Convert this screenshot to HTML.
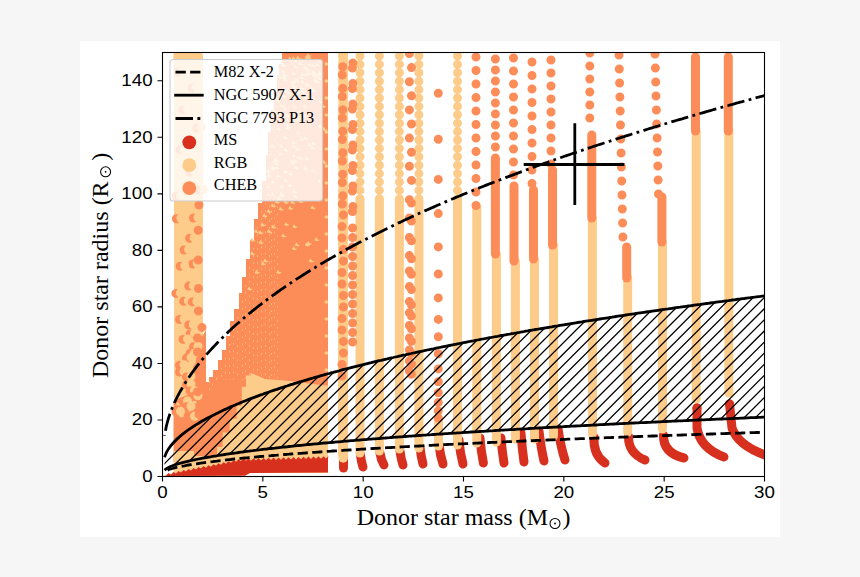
<!DOCTYPE html>
<html><head><meta charset="utf-8"><style>
html,body{margin:0;padding:0;background:#f6f6f6;}
svg{display:block;}
.tk{font-family:"Liberation Sans",sans-serif;font-size:16px;fill:#000;}
.lab{font-family:"Liberation Serif",serif;font-size:24px;fill:#000;}
.lg{font-family:"Liberation Serif",serif;font-size:16.3px;fill:#000;}
</style></head><body>
<svg width="860" height="577" viewBox="0 0 860 577">
<defs><clipPath id="ax"><rect x="162.5" y="52.5" width="602" height="424"/></clipPath>
<clipPath id="hz"><polygon points="164.5,457.2 166.5,452.3 168.5,448.9 170.5,446.1 172.5,443.6 174.5,441.4 176.5,439.4 178.6,437.6 180.6,435.8 182.6,434.2 184.6,432.6 186.6,431.1 188.6,429.7 190.6,428.3 192.6,427.0 194.6,425.7 196.6,424.4 198.6,423.2 200.6,422.0 202.6,420.8 204.6,419.7 206.6,418.6 208.7,417.5 210.7,416.5 212.7,415.4 214.7,414.4 216.7,413.4 218.7,412.4 220.7,411.5 222.7,410.5 224.7,409.6 226.7,408.7 228.7,407.8 230.7,406.9 232.7,406.0 234.7,405.2 236.7,404.3 238.8,403.5 240.8,402.6 242.8,401.8 244.8,401.0 246.8,400.2 248.8,399.4 250.8,398.6 252.8,397.9 254.8,397.1 256.8,396.4 258.8,395.6 260.8,394.9 262.8,394.2 264.8,393.4 266.8,392.7 268.9,392.0 270.9,391.3 272.9,390.6 274.9,389.9 276.9,389.3 278.9,388.6 280.9,387.9 282.9,387.3 284.9,386.6 286.9,386.0 288.9,385.3 290.9,384.7 292.9,384.1 294.9,383.4 296.9,382.8 299.0,382.2 301.0,381.6 303.0,381.0 305.0,380.4 307.0,379.8 309.0,379.2 311.0,378.6 313.0,378.0 315.0,377.4 317.0,376.9 319.0,376.3 321.0,375.7 323.0,375.2 325.0,374.6 327.0,374.0 329.1,373.5 331.1,372.9 333.1,372.4 335.1,371.8 337.1,371.3 339.1,370.8 341.1,370.2 343.1,369.7 345.1,369.2 347.1,368.7 349.1,368.2 351.1,367.6 353.1,367.1 355.1,366.6 357.1,366.1 359.2,365.6 361.2,365.1 363.2,364.6 365.2,364.1 367.2,363.6 369.2,363.1 371.2,362.7 373.2,362.2 375.2,361.7 377.2,361.2 379.2,360.7 381.2,360.3 383.2,359.8 385.2,359.3 387.2,358.9 389.3,358.4 391.3,357.9 393.3,357.5 395.3,357.0 397.3,356.6 399.3,356.1 401.3,355.7 403.3,355.2 405.3,354.8 407.3,354.3 409.3,353.9 411.3,353.5 413.3,353.0 415.3,352.6 417.3,352.1 419.4,351.7 421.4,351.3 423.4,350.9 425.4,350.4 427.4,350.0 429.4,349.6 431.4,349.2 433.4,348.8 435.4,348.3 437.4,347.9 439.4,347.5 441.4,347.1 443.4,346.7 445.4,346.3 447.4,345.9 449.5,345.5 451.5,345.1 453.5,344.7 455.5,344.3 457.5,343.9 459.5,343.5 461.5,343.1 463.5,342.7 465.5,342.3 467.5,341.9 469.5,341.5 471.5,341.1 473.5,340.8 475.5,340.4 477.5,340.0 479.6,339.6 481.6,339.2 483.6,338.9 485.6,338.5 487.6,338.1 489.6,337.7 491.6,337.4 493.6,337.0 495.6,336.6 497.6,336.3 499.6,335.9 501.6,335.5 503.6,335.2 505.6,334.8 507.6,334.4 509.7,334.1 511.7,333.7 513.7,333.4 515.7,333.0 517.7,332.6 519.7,332.3 521.7,331.9 523.7,331.6 525.7,331.2 527.7,330.9 529.7,330.5 531.7,330.2 533.7,329.8 535.7,329.5 537.7,329.2 539.8,328.8 541.8,328.5 543.8,328.1 545.8,327.8 547.8,327.5 549.8,327.1 551.8,326.8 553.8,326.4 555.8,326.1 557.8,325.8 559.8,325.4 561.8,325.1 563.8,324.8 565.8,324.5 567.8,324.1 569.9,323.8 571.9,323.5 573.9,323.2 575.9,322.8 577.9,322.5 579.9,322.2 581.9,321.9 583.9,321.5 585.9,321.2 587.9,320.9 589.9,320.6 591.9,320.3 593.9,320.0 595.9,319.6 597.9,319.3 600.0,319.0 602.0,318.7 604.0,318.4 606.0,318.1 608.0,317.8 610.0,317.5 612.0,317.2 614.0,316.8 616.0,316.5 618.0,316.2 620.0,315.9 622.0,315.6 624.0,315.3 626.0,315.0 628.0,314.7 630.1,314.4 632.1,314.1 634.1,313.8 636.1,313.5 638.1,313.2 640.1,312.9 642.1,312.6 644.1,312.3 646.1,312.0 648.1,311.7 650.1,311.5 652.1,311.2 654.1,310.9 656.1,310.6 658.1,310.3 660.2,310.0 662.2,309.7 664.2,309.4 666.2,309.1 668.2,308.9 670.2,308.6 672.2,308.3 674.2,308.0 676.2,307.7 678.2,307.4 680.2,307.2 682.2,306.9 684.2,306.6 686.2,306.3 688.2,306.0 690.3,305.8 692.3,305.5 694.3,305.2 696.3,304.9 698.3,304.6 700.3,304.4 702.3,304.1 704.3,303.8 706.3,303.5 708.3,303.3 710.3,303.0 712.3,302.7 714.3,302.5 716.3,302.2 718.3,301.9 720.4,301.6 722.4,301.4 724.4,301.1 726.4,300.8 728.4,300.6 730.4,300.3 732.4,300.0 734.4,299.8 736.4,299.5 738.4,299.2 740.4,299.0 742.4,298.7 744.4,298.5 746.4,298.2 748.4,297.9 750.5,297.7 752.5,297.4 754.5,297.2 756.5,296.9 758.5,296.6 760.5,296.4 762.5,296.1 764.5,295.9 764.5,417.1 762.5,417.2 760.5,417.3 758.5,417.4 756.5,417.5 754.5,417.6 752.5,417.7 750.5,417.7 748.4,417.8 746.4,417.9 744.4,418.0 742.4,418.1 740.4,418.2 738.4,418.3 736.4,418.3 734.4,418.4 732.4,418.5 730.4,418.6 728.4,418.7 726.4,418.8 724.4,418.9 722.4,419.0 720.4,419.0 718.3,419.1 716.3,419.2 714.3,419.3 712.3,419.4 710.3,419.5 708.3,419.6 706.3,419.7 704.3,419.8 702.3,419.8 700.3,419.9 698.3,420.0 696.3,420.1 694.3,420.2 692.3,420.3 690.3,420.4 688.2,420.5 686.2,420.6 684.2,420.7 682.2,420.8 680.2,420.9 678.2,420.9 676.2,421.0 674.2,421.1 672.2,421.2 670.2,421.3 668.2,421.4 666.2,421.5 664.2,421.6 662.2,421.7 660.2,421.8 658.1,421.9 656.1,422.0 654.1,422.1 652.1,422.2 650.1,422.3 648.1,422.4 646.1,422.5 644.1,422.6 642.1,422.7 640.1,422.7 638.1,422.8 636.1,422.9 634.1,423.0 632.1,423.1 630.1,423.2 628.0,423.3 626.0,423.4 624.0,423.5 622.0,423.6 620.0,423.7 618.0,423.8 616.0,423.9 614.0,424.0 612.0,424.1 610.0,424.2 608.0,424.3 606.0,424.4 604.0,424.5 602.0,424.6 600.0,424.7 597.9,424.9 595.9,425.0 593.9,425.1 591.9,425.2 589.9,425.3 587.9,425.4 585.9,425.5 583.9,425.6 581.9,425.7 579.9,425.8 577.9,425.9 575.9,426.0 573.9,426.1 571.9,426.2 569.9,426.3 567.8,426.4 565.8,426.5 563.8,426.6 561.8,426.8 559.8,426.9 557.8,427.0 555.8,427.1 553.8,427.2 551.8,427.3 549.8,427.4 547.8,427.5 545.8,427.6 543.8,427.7 541.8,427.9 539.8,428.0 537.7,428.1 535.7,428.2 533.7,428.3 531.7,428.4 529.7,428.5 527.7,428.7 525.7,428.8 523.7,428.9 521.7,429.0 519.7,429.1 517.7,429.2 515.7,429.3 513.7,429.5 511.7,429.6 509.7,429.7 507.6,429.8 505.6,429.9 503.6,430.1 501.6,430.2 499.6,430.3 497.6,430.4 495.6,430.5 493.6,430.7 491.6,430.8 489.6,430.9 487.6,431.0 485.6,431.1 483.6,431.3 481.6,431.4 479.6,431.5 477.5,431.6 475.5,431.8 473.5,431.9 471.5,432.0 469.5,432.1 467.5,432.3 465.5,432.4 463.5,432.5 461.5,432.7 459.5,432.8 457.5,432.9 455.5,433.1 453.5,433.2 451.5,433.3 449.5,433.4 447.4,433.6 445.4,433.7 443.4,433.8 441.4,434.0 439.4,434.1 437.4,434.2 435.4,434.4 433.4,434.5 431.4,434.7 429.4,434.8 427.4,434.9 425.4,435.1 423.4,435.2 421.4,435.4 419.4,435.5 417.3,435.6 415.3,435.8 413.3,435.9 411.3,436.1 409.3,436.2 407.3,436.4 405.3,436.5 403.3,436.6 401.3,436.8 399.3,436.9 397.3,437.1 395.3,437.2 393.3,437.4 391.3,437.5 389.3,437.7 387.2,437.8 385.2,438.0 383.2,438.1 381.2,438.3 379.2,438.5 377.2,438.6 375.2,438.8 373.2,438.9 371.2,439.1 369.2,439.2 367.2,439.4 365.2,439.6 363.2,439.7 361.2,439.9 359.2,440.1 357.1,440.2 355.1,440.4 353.1,440.6 351.1,440.7 349.1,440.9 347.1,441.1 345.1,441.2 343.1,441.4 341.1,441.6 339.1,441.8 337.1,441.9 335.1,442.1 333.1,442.3 331.1,442.5 329.1,442.6 327.0,442.8 325.0,443.0 323.0,443.2 321.0,443.4 319.0,443.6 317.0,443.8 315.0,443.9 313.0,444.1 311.0,444.3 309.0,444.5 307.0,444.7 305.0,444.9 303.0,445.1 301.0,445.3 299.0,445.5 296.9,445.7 294.9,445.9 292.9,446.1 290.9,446.3 288.9,446.5 286.9,446.8 284.9,447.0 282.9,447.2 280.9,447.4 278.9,447.6 276.9,447.8 274.9,448.1 272.9,448.3 270.9,448.5 268.9,448.7 266.8,449.0 264.8,449.2 262.8,449.4 260.8,449.7 258.8,449.9 256.8,450.2 254.8,450.4 252.8,450.7 250.8,450.9 248.8,451.2 246.8,451.4 244.8,451.7 242.8,452.0 240.8,452.2 238.8,452.5 236.7,452.8 234.7,453.1 232.7,453.3 230.7,453.6 228.7,453.9 226.7,454.2 224.7,454.5 222.7,454.8 220.7,455.1 218.7,455.4 216.7,455.8 214.7,456.1 212.7,456.4 210.7,456.8 208.7,457.1 206.6,457.5 204.6,457.8 202.6,458.2 200.6,458.6 198.6,459.0 196.6,459.4 194.6,459.8 192.6,460.2 190.6,460.7 188.6,461.1 186.6,461.6 184.6,462.1 182.6,462.6 180.6,463.1 178.6,463.7 176.5,464.3 174.5,465.0 172.5,465.7 170.5,466.5 168.5,467.4 166.5,468.6 164.5,470.1"/></clipPath></defs>
<rect width="860" height="577" fill="#f6f6f6"/>
<rect x="80" y="41" width="700" height="496" fill="#ffffff"/>
<g clip-path="url(#ax)">
<rect x="174" y="52" width="29" height="410" rx="4.5" fill="#fdcc8a"/>
<rect x="173.5" y="48" width="21" height="20" fill="#fdcc8a"/>
<polygon points="328.0,48.0 282.0,48.0 282.0,52.0 282.0,64.0 279.0,64.0 279.0,75.0 277.0,75.0 277.0,92.0 274.0,92.0 274.0,110.0 271.0,110.0 271.0,132.0 268.0,132.0 268.0,155.0 266.0,155.0 266.0,181.0 262.0,181.0 262.0,203.0 258.0,203.0 258.0,219.0 254.0,219.0 254.0,240.0 250.0,240.0 250.0,259.0 246.0,259.0 246.0,277.0 242.0,277.0 242.0,293.0 239.0,293.0 239.0,309.0 234.0,309.0 234.0,321.0 230.0,321.0 230.0,336.0 226.0,336.0 226.0,350.0 222.0,350.0 222.0,360.0 218.0,360.0 218.0,370.0 213.0,370.0 213.0,377.0 209.0,377.0 209.0,382.0 206.0,382.0 206.0,462.0 328.0,462.0" fill="#fc8d59"/>
<polygon points="173.5,462.0 173.5,402.0 180.0,398.0 190.0,394.0 196.0,360.0 200.0,340.0 206.0,330.0 206.0,462.0" fill="#fc8d59"/>
<path fill="#fdcc8a" d="M176,404q3,-4 6,0q-3,3 -6,0zM186,410q3,-4 6,0q-3,3 -6,0zM179,416q3,-4 5,0q-2,3 -5,0zM192,402q2,-3 5,0q-2,3 -5,0z"/>
<path fill="#fc8d59" d="M171.9,218.8a4.5,4.5 0 1,0 9.0,0a4.5,4.5 0 1,0 -9.0,0"/>
<path fill="#fdcc8a" d="M176.4,218.3a4.5,4.5 0 1,0 9.0,0a4.5,4.5 0 1,0 -9.0,0"/>
<path fill="#fc8d59" d="M189.0,218.0a4.5,4.5 0 1,0 9.0,0a4.5,4.5 0 1,0 -9.0,0"/>
<path fill="#fdcc8a" d="M193.5,217.5a4.5,4.5 0 1,0 9.0,0a4.5,4.5 0 1,0 -9.0,0"/>
<path fill="#fc8d59" d="M185.1,238.3a4.5,4.5 0 1,0 9.0,0a4.5,4.5 0 1,0 -9.0,0"/>
<path fill="#fdcc8a" d="M189.6,237.8a4.5,4.5 0 1,0 9.0,0a4.5,4.5 0 1,0 -9.0,0"/>
<path fill="#fc8d59" d="M179.6,250.0a4.5,4.5 0 1,0 9.0,0a4.5,4.5 0 1,0 -9.0,0"/>
<path fill="#fdcc8a" d="M184.1,249.5a4.5,4.5 0 1,0 9.0,0a4.5,4.5 0 1,0 -9.0,0"/>
<path fill="#fc8d59" d="M188.2,264.0a4.5,4.5 0 1,0 9.0,0a4.5,4.5 0 1,0 -9.0,0"/>
<path fill="#fdcc8a" d="M192.7,263.5a4.5,4.5 0 1,0 9.0,0a4.5,4.5 0 1,0 -9.0,0"/>
<path fill="#fc8d59" d="M175.7,266.3a4.5,4.5 0 1,0 9.0,0a4.5,4.5 0 1,0 -9.0,0"/>
<path fill="#fdcc8a" d="M180.2,265.8a4.5,4.5 0 1,0 9.0,0a4.5,4.5 0 1,0 -9.0,0"/>
<path fill="#fc8d59" d="M184.2,286.1a4.5,4.5 0 1,0 9.0,0a4.5,4.5 0 1,0 -9.0,0"/>
<path fill="#fdcc8a" d="M188.7,285.6a4.5,4.5 0 1,0 9.0,0a4.5,4.5 0 1,0 -9.0,0"/>
<path fill="#fc8d59" d="M171.4,293.4a4.5,4.5 0 1,0 9.0,0a4.5,4.5 0 1,0 -9.0,0"/>
<path fill="#fdcc8a" d="M175.9,292.9a4.5,4.5 0 1,0 9.0,0a4.5,4.5 0 1,0 -9.0,0"/>
<path fill="#fc8d59" d="M179.3,301.3a4.5,4.5 0 1,0 9.0,0a4.5,4.5 0 1,0 -9.0,0"/>
<path fill="#fdcc8a" d="M183.8,300.8a4.5,4.5 0 1,0 9.0,0a4.5,4.5 0 1,0 -9.0,0"/>
<path fill="#fc8d59" d="M187.8,301.9a4.5,4.5 0 1,0 9.0,0a4.5,4.5 0 1,0 -9.0,0"/>
<path fill="#fdcc8a" d="M192.3,301.4a4.5,4.5 0 1,0 9.0,0a4.5,4.5 0 1,0 -9.0,0"/>
<path fill="#fc8d59" d="M175.1,319.5a4.5,4.5 0 1,0 9.0,0a4.5,4.5 0 1,0 -9.0,0"/>
<path fill="#fdcc8a" d="M179.6,319.0a4.5,4.5 0 1,0 9.0,0a4.5,4.5 0 1,0 -9.0,0"/>
<path fill="#fc8d59" d="M184.2,325.0a4.5,4.5 0 1,0 9.0,0a4.5,4.5 0 1,0 -9.0,0"/>
<path fill="#fdcc8a" d="M188.7,324.5a4.5,4.5 0 1,0 9.0,0a4.5,4.5 0 1,0 -9.0,0"/>
<path fill="#fc8d59" d="M185.5,334.0a4.5,4.5 0 1,0 9.0,0a4.5,4.5 0 1,0 -9.0,0"/>
<path fill="#fdcc8a" d="M190.0,333.5a4.5,4.5 0 1,0 9.0,0a4.5,4.5 0 1,0 -9.0,0"/>
<path fill="#fc8d59" d="M178.5,339.4a4.5,4.5 0 1,0 9.0,0a4.5,4.5 0 1,0 -9.0,0"/>
<path fill="#fdcc8a" d="M183.0,338.9a4.5,4.5 0 1,0 9.0,0a4.5,4.5 0 1,0 -9.0,0"/>
<path fill="#fc8d59" d="M189.0,346.7a4.5,4.5 0 1,0 9.0,0a4.5,4.5 0 1,0 -9.0,0"/>
<path fill="#fdcc8a" d="M193.5,346.2a4.5,4.5 0 1,0 9.0,0a4.5,4.5 0 1,0 -9.0,0"/>
<path fill="#fc8d59" d="M185.5,353.5a4.5,4.5 0 1,0 9.0,0a4.5,4.5 0 1,0 -9.0,0"/>
<path fill="#fdcc8a" d="M190.0,353.0a4.5,4.5 0 1,0 9.0,0a4.5,4.5 0 1,0 -9.0,0"/>
<path fill="#fc8d59" d="M182.0,358.1a4.5,4.5 0 1,0 9.0,0a4.5,4.5 0 1,0 -9.0,0"/>
<path fill="#fdcc8a" d="M186.5,357.6a4.5,4.5 0 1,0 9.0,0a4.5,4.5 0 1,0 -9.0,0"/>
<path fill="#fc8d59" d="M175.0,365.3a4.5,4.5 0 1,0 9.0,0a4.5,4.5 0 1,0 -9.0,0"/>
<path fill="#fdcc8a" d="M179.5,364.8a4.5,4.5 0 1,0 9.0,0a4.5,4.5 0 1,0 -9.0,0"/>
<path fill="#fc8d59" d="M175.0,372.0a4.5,4.5 0 1,0 9.0,0a4.5,4.5 0 1,0 -9.0,0"/>
<path fill="#fdcc8a" d="M179.5,371.5a4.5,4.5 0 1,0 9.0,0a4.5,4.5 0 1,0 -9.0,0"/>
<path fill="#fc8d59" d="M182.0,376.9a4.5,4.5 0 1,0 9.0,0a4.5,4.5 0 1,0 -9.0,0"/>
<path fill="#fdcc8a" d="M186.5,376.4a4.5,4.5 0 1,0 9.0,0a4.5,4.5 0 1,0 -9.0,0"/>
<path fill="#fc8d59" d="M182.0,384.5a4.5,4.5 0 1,0 9.0,0a4.5,4.5 0 1,0 -9.0,0"/>
<path fill="#fdcc8a" d="M186.5,384.0a4.5,4.5 0 1,0 9.0,0a4.5,4.5 0 1,0 -9.0,0"/>
<path fill="#fc8d59" d="M185.5,390.9a4.5,4.5 0 1,0 9.0,0a4.5,4.5 0 1,0 -9.0,0"/>
<path fill="#fdcc8a" d="M190.0,390.4a4.5,4.5 0 1,0 9.0,0a4.5,4.5 0 1,0 -9.0,0"/>
<path fill="#fc8d59" d="M189.0,396.3a4.5,4.5 0 1,0 9.0,0a4.5,4.5 0 1,0 -9.0,0"/>
<path fill="#fdcc8a" d="M193.5,395.8a4.5,4.5 0 1,0 9.0,0a4.5,4.5 0 1,0 -9.0,0"/>
<path fill="#fc8d59" d="M178.5,401.5a4.5,4.5 0 1,0 9.0,0a4.5,4.5 0 1,0 -9.0,0"/>
<path fill="#fdcc8a" d="M183.0,401.0a4.5,4.5 0 1,0 9.0,0a4.5,4.5 0 1,0 -9.0,0"/>
<path fill="#fc8d59" d="M182.0,406.7a4.5,4.5 0 1,0 9.0,0a4.5,4.5 0 1,0 -9.0,0"/>
<path fill="#fdcc8a" d="M186.5,406.2a4.5,4.5 0 1,0 9.0,0a4.5,4.5 0 1,0 -9.0,0"/>
<path fill="#fc8d59" d="M171.5,411.7a4.5,4.5 0 1,0 9.0,0a4.5,4.5 0 1,0 -9.0,0"/>
<path fill="#fdcc8a" d="M176.0,411.2a4.5,4.5 0 1,0 9.0,0a4.5,4.5 0 1,0 -9.0,0"/>
<path fill="#fc8d59" d="M185.5,416.7a4.5,4.5 0 1,0 9.0,0a4.5,4.5 0 1,0 -9.0,0"/>
<path fill="#fdcc8a" d="M190.0,416.2a4.5,4.5 0 1,0 9.0,0a4.5,4.5 0 1,0 -9.0,0"/>
<path fill="#fc8d59" d="M173.5,72.0a4.5,4.5 0 1,0 9.0,0a4.5,4.5 0 1,0 -9.0,0"/>
<path fill="#fdcc8a" d="M178.0,71.5a4.5,4.5 0 1,0 9.0,0a4.5,4.5 0 1,0 -9.0,0"/>
<path fill="#fc8d59" d="M187.5,88.0a4.5,4.5 0 1,0 9.0,0a4.5,4.5 0 1,0 -9.0,0"/>
<path fill="#fdcc8a" d="M192.0,87.5a4.5,4.5 0 1,0 9.0,0a4.5,4.5 0 1,0 -9.0,0"/>
<path fill="#fc8d59" d="M178.5,110.0a4.5,4.5 0 1,0 9.0,0a4.5,4.5 0 1,0 -9.0,0"/>
<path fill="#fdcc8a" d="M183.0,109.5a4.5,4.5 0 1,0 9.0,0a4.5,4.5 0 1,0 -9.0,0"/>
<path fill="#fc8d59" d="M192.5,128.0a4.5,4.5 0 1,0 9.0,0a4.5,4.5 0 1,0 -9.0,0"/>
<path fill="#fdcc8a" d="M197.0,127.5a4.5,4.5 0 1,0 9.0,0a4.5,4.5 0 1,0 -9.0,0"/>
<path fill="#fc8d59" d="M175.5,150.0a4.5,4.5 0 1,0 9.0,0a4.5,4.5 0 1,0 -9.0,0"/>
<path fill="#fdcc8a" d="M180.0,149.5a4.5,4.5 0 1,0 9.0,0a4.5,4.5 0 1,0 -9.0,0"/>
<path fill="#fc8d59" d="M185.5,172.0a4.5,4.5 0 1,0 9.0,0a4.5,4.5 0 1,0 -9.0,0"/>
<path fill="#fdcc8a" d="M190.0,171.5a4.5,4.5 0 1,0 9.0,0a4.5,4.5 0 1,0 -9.0,0"/>
<path fill="#fc8d59" d="M194.5,190.0a4.5,4.5 0 1,0 9.0,0a4.5,4.5 0 1,0 -9.0,0"/>
<path fill="#fdcc8a" d="M199.0,189.5a4.5,4.5 0 1,0 9.0,0a4.5,4.5 0 1,0 -9.0,0"/>
<path fill="#fc8d59" d="M171.5,196.0a4.5,4.5 0 1,0 9.0,0a4.5,4.5 0 1,0 -9.0,0"/>
<path fill="#fdcc8a" d="M176.0,195.5a4.5,4.5 0 1,0 9.0,0a4.5,4.5 0 1,0 -9.0,0"/>
<path fill="#fc8d59" d="M193.7,230.2a4.5,4.5 0 1,0 9.0,0a4.5,4.5 0 1,0 -9.0,0M193.7,260.0a4.5,4.5 0 1,0 9.0,0a4.5,4.5 0 1,0 -9.0,0M194.5,205.0a4.5,4.5 0 1,0 9.0,0a4.5,4.5 0 1,0 -9.0,0M193.9,288.5a4.5,4.5 0 1,0 9.0,0a4.5,4.5 0 1,0 -9.0,0M193.9,311.0a4.5,4.5 0 1,0 9.0,0a4.5,4.5 0 1,0 -9.0,0M197.5,327.4a4.5,4.5 0 1,0 9.0,0a4.5,4.5 0 1,0 -9.0,0M193.0,338.0a4.5,4.5 0 1,0 9.0,0a4.5,4.5 0 1,0 -9.0,0M193.0,352.0a4.5,4.5 0 1,0 9.0,0a4.5,4.5 0 1,0 -9.0,0M193.0,368.1a4.5,4.5 0 1,0 9.0,0a4.5,4.5 0 1,0 -9.0,0M193.0,391.7a4.5,4.5 0 1,0 9.0,0a4.5,4.5 0 1,0 -9.0,0M194.5,414.4a4.5,4.5 0 1,0 9.0,0a4.5,4.5 0 1,0 -9.0,0"/>
<path fill="#fdcc8a" d="M292.1,161.9l1.8,-3.2l1.6,2.4l2.2,0.4l-2.4,1.4zM312.3,99.2l1.8,-3.2l1.6,2.4l2.2,0.4l-2.4,1.4zM278.0,78.0l1.8,-3.2l1.6,2.4l2.2,0.4l-2.4,1.4zM270.6,195.3l1.8,-3.2l1.6,2.4l2.2,0.4l-2.4,1.4zM305.6,70.8l1.8,-3.2l1.6,2.4l2.2,0.4l-2.4,1.4zM279.2,194.3l1.8,-3.2l1.6,2.4l2.2,0.4l-2.4,1.4zM321.8,163.0l1.8,-3.2l1.6,2.4l2.2,0.4l-2.4,1.4zM276.3,129.8l1.8,-3.2l1.6,2.4l2.2,0.4l-2.4,1.4zM279.2,187.8l1.8,-3.2l1.6,2.4l2.2,0.4l-2.4,1.4zM250.0,254.3l1.8,-3.2l1.6,2.4l2.2,0.4l-2.4,1.4zM310.5,149.0l1.8,-3.2l1.6,2.4l2.2,0.4l-2.4,1.4zM297.8,119.1l1.8,-3.2l1.6,2.4l2.2,0.4l-2.4,1.4zM258.3,233.4l1.8,-3.2l1.6,2.4l2.2,0.4l-2.4,1.4zM295.9,58.6l1.8,-3.2l1.6,2.4l2.2,0.4l-2.4,1.4zM273.3,160.7l1.8,-3.2l1.6,2.4l2.2,0.4l-2.4,1.4zM270.9,206.6l1.8,-3.2l1.6,2.4l2.2,0.4l-2.4,1.4zM306.1,56.1l1.8,-3.2l1.6,2.4l2.2,0.4l-2.4,1.4zM247.3,289.5l1.8,-3.2l1.6,2.4l2.2,0.4l-2.4,1.4zM281.0,65.9l1.8,-3.2l1.6,2.4l2.2,0.4l-2.4,1.4zM284.9,125.3l1.8,-3.2l1.6,2.4l2.2,0.4l-2.4,1.4zM288.0,59.6l1.8,-3.2l1.6,2.4l2.2,0.4l-2.4,1.4zM291.7,87.8l1.8,-3.2l1.6,2.4l2.2,0.4l-2.4,1.4zM282.4,109.4l1.8,-3.2l1.6,2.4l2.2,0.4l-2.4,1.4zM270.3,168.9l1.8,-3.2l1.6,2.4l2.2,0.4l-2.4,1.4zM306.8,65.1l1.8,-3.2l1.6,2.4l2.2,0.4l-2.4,1.4zM266.3,195.6l1.8,-3.2l1.6,2.4l2.2,0.4l-2.4,1.4zM305.1,85.6l1.8,-3.2l1.6,2.4l2.2,0.4l-2.4,1.4zM311.7,73.3l1.8,-3.2l1.6,2.4l2.2,0.4l-2.4,1.4zM281.0,72.2l1.8,-3.2l1.6,2.4l2.2,0.4l-2.4,1.4zM281.2,97.2l1.8,-3.2l1.6,2.4l2.2,0.4l-2.4,1.4zM299.5,88.8l1.8,-3.2l1.6,2.4l2.2,0.4l-2.4,1.4zM300.2,61.0l1.8,-3.2l1.6,2.4l2.2,0.4l-2.4,1.4zM317.9,73.6l1.8,-3.2l1.6,2.4l2.2,0.4l-2.4,1.4zM298.5,202.2l1.8,-3.2l1.6,2.4l2.2,0.4l-2.4,1.4zM317.1,74.8l1.8,-3.2l1.6,2.4l2.2,0.4l-2.4,1.4zM282.3,75.6l1.8,-3.2l1.6,2.4l2.2,0.4l-2.4,1.4zM293.8,168.5l1.8,-3.2l1.6,2.4l2.2,0.4l-2.4,1.4zM284.9,115.9l1.8,-3.2l1.6,2.4l2.2,0.4l-2.4,1.4zM283.2,172.6l1.8,-3.2l1.6,2.4l2.2,0.4l-2.4,1.4zM318.0,102.5l1.8,-3.2l1.6,2.4l2.2,0.4l-2.4,1.4zM292.1,192.4l1.8,-3.2l1.6,2.4l2.2,0.4l-2.4,1.4zM314.7,65.5l1.8,-3.2l1.6,2.4l2.2,0.4l-2.4,1.4zM314.6,82.4l1.8,-3.2l1.6,2.4l2.2,0.4l-2.4,1.4zM307.2,145.5l1.8,-3.2l1.6,2.4l2.2,0.4l-2.4,1.4zM286.1,121.1l1.8,-3.2l1.6,2.4l2.2,0.4l-2.4,1.4zM303.3,138.9l1.8,-3.2l1.6,2.4l2.2,0.4l-2.4,1.4zM283.9,150.8l1.8,-3.2l1.6,2.4l2.2,0.4l-2.4,1.4zM294.2,81.5l1.8,-3.2l1.6,2.4l2.2,0.4l-2.4,1.4zM291.5,74.2l1.8,-3.2l1.6,2.4l2.2,0.4l-2.4,1.4zM283.5,181.2l1.8,-3.2l1.6,2.4l2.2,0.4l-2.4,1.4zM285.5,93.3l1.8,-3.2l1.6,2.4l2.2,0.4l-2.4,1.4zM270.0,146.8l1.8,-3.2l1.6,2.4l2.2,0.4l-2.4,1.4zM311.4,144.2l1.8,-3.2l1.6,2.4l2.2,0.4l-2.4,1.4zM310.4,208.4l1.8,-3.2l1.6,2.4l2.2,0.4l-2.4,1.4zM311.8,75.4l1.8,-3.2l1.6,2.4l2.2,0.4l-2.4,1.4zM269.6,170.1l1.8,-3.2l1.6,2.4l2.2,0.4l-2.4,1.4zM258.6,243.2l1.8,-3.2l1.6,2.4l2.2,0.4l-2.4,1.4zM297.4,158.8l1.8,-3.2l1.6,2.4l2.2,0.4l-2.4,1.4zM287.1,94.5l1.8,-3.2l1.6,2.4l2.2,0.4l-2.4,1.4zM285.6,127.2l1.8,-3.2l1.6,2.4l2.2,0.4l-2.4,1.4zM266.0,172.4l1.8,-3.2l1.6,2.4l2.2,0.4l-2.4,1.4zM293.0,197.6l1.8,-3.2l1.6,2.4l2.2,0.4l-2.4,1.4zM266.0,187.7l1.8,-3.2l1.6,2.4l2.2,0.4l-2.4,1.4zM317.4,182.1l1.8,-3.2l1.6,2.4l2.2,0.4l-2.4,1.4zM297.8,119.0l1.8,-3.2l1.6,2.4l2.2,0.4l-2.4,1.4zM295.2,81.4l1.8,-3.2l1.6,2.4l2.2,0.4l-2.4,1.4zM290.9,86.3l1.8,-3.2l1.6,2.4l2.2,0.4l-2.4,1.4zM296.5,92.4l1.8,-3.2l1.6,2.4l2.2,0.4l-2.4,1.4zM276.3,113.2l1.8,-3.2l1.6,2.4l2.2,0.4l-2.4,1.4zM308.7,261.6l1.8,-3.2l1.6,2.4l2.2,0.4l-2.4,1.4zM302.6,107.1l1.8,-3.2l1.6,2.4l2.2,0.4l-2.4,1.4zM283.5,202.9l1.8,-3.2l1.6,2.4l2.2,0.4l-2.4,1.4zM260.8,264.4l1.8,-3.2l1.6,2.4l2.2,0.4l-2.4,1.4zM282.3,78.7l1.8,-3.2l1.6,2.4l2.2,0.4l-2.4,1.4zM293.1,116.7l1.8,-3.2l1.6,2.4l2.2,0.4l-2.4,1.4zM250.0,240.8l1.8,-3.2l1.6,2.4l2.2,0.4l-2.4,1.4zM299.5,78.5l1.8,-3.2l1.6,2.4l2.2,0.4l-2.4,1.4zM300.1,83.0l1.8,-3.2l1.6,2.4l2.2,0.4l-2.4,1.4zM262.3,216.4l1.8,-3.2l1.6,2.4l2.2,0.4l-2.4,1.4zM318.3,61.7l1.8,-3.2l1.6,2.4l2.2,0.4l-2.4,1.4zM274.6,168.6l1.8,-3.2l1.6,2.4l2.2,0.4l-2.4,1.4zM276.1,272.9l1.8,-3.2l1.6,2.4l2.2,0.4l-2.4,1.4zM306.8,74.2l1.8,-3.2l1.6,2.4l2.2,0.4l-2.4,1.4zM266.7,176.6l1.8,-3.2l1.6,2.4l2.2,0.4l-2.4,1.4zM294.0,98.4l1.8,-3.2l1.6,2.4l2.2,0.4l-2.4,1.4zM275.7,101.7l1.8,-3.2l1.6,2.4l2.2,0.4l-2.4,1.4zM290.3,203.3l1.8,-3.2l1.6,2.4l2.2,0.4l-2.4,1.4zM284.1,225.1l1.8,-3.2l1.6,2.4l2.2,0.4l-2.4,1.4zM317.7,79.6l1.8,-3.2l1.6,2.4l2.2,0.4l-2.4,1.4zM293.3,67.6l1.8,-3.2l1.6,2.4l2.2,0.4l-2.4,1.4zM279.3,106.6l1.8,-3.2l1.6,2.4l2.2,0.4l-2.4,1.4zM293.0,61.3l1.8,-3.2l1.6,2.4l2.2,0.4l-2.4,1.4zM295.8,150.0l1.8,-3.2l1.6,2.4l2.2,0.4l-2.4,1.4zM304.5,58.5l1.8,-3.2l1.6,2.4l2.2,0.4l-2.4,1.4zM304.7,245.4l1.8,-3.2l1.6,2.4l2.2,0.4l-2.4,1.4zM311.1,66.6l1.8,-3.2l1.6,2.4l2.2,0.4l-2.4,1.4zM291.8,156.5l1.8,-3.2l1.6,2.4l2.2,0.4l-2.4,1.4zM279.2,195.9l1.8,-3.2l1.6,2.4l2.2,0.4l-2.4,1.4zM279.8,187.2l1.8,-3.2l1.6,2.4l2.2,0.4l-2.4,1.4zM291.6,59.3l1.8,-3.2l1.6,2.4l2.2,0.4l-2.4,1.4zM302.5,68.4l1.8,-3.2l1.6,2.4l2.2,0.4l-2.4,1.4zM311.1,73.2l1.8,-3.2l1.6,2.4l2.2,0.4l-2.4,1.4zM276.3,114.7l1.8,-3.2l1.6,2.4l2.2,0.4l-2.4,1.4zM290.9,82.9l1.8,-3.2l1.6,2.4l2.2,0.4l-2.4,1.4zM300.8,92.2l1.8,-3.2l1.6,2.4l2.2,0.4l-2.4,1.4zM289.5,162.6l1.8,-3.2l1.6,2.4l2.2,0.4l-2.4,1.4zM271.2,227.8l1.8,-3.2l1.6,2.4l2.2,0.4l-2.4,1.4zM299.4,140.0l1.8,-3.2l1.6,2.4l2.2,0.4l-2.4,1.4zM266.9,232.3l1.8,-3.2l1.6,2.4l2.2,0.4l-2.4,1.4zM263.2,261.6l1.8,-3.2l1.6,2.4l2.2,0.4l-2.4,1.4zM284.9,116.7l1.8,-3.2l1.6,2.4l2.2,0.4l-2.4,1.4zM270.6,182.7l1.8,-3.2l1.6,2.4l2.2,0.4l-2.4,1.4zM291.5,143.3l1.8,-3.2l1.6,2.4l2.2,0.4l-2.4,1.4zM310.9,171.7l1.8,-3.2l1.6,2.4l2.2,0.4l-2.4,1.4zM291.5,147.3l1.8,-3.2l1.6,2.4l2.2,0.4l-2.4,1.4zM291.8,249.3l1.8,-3.2l1.6,2.4l2.2,0.4l-2.4,1.4zM290.2,164.1l1.8,-3.2l1.6,2.4l2.2,0.4l-2.4,1.4zM306.5,58.2l1.8,-3.2l1.6,2.4l2.2,0.4l-2.4,1.4zM278.6,209.8l1.8,-3.2l1.6,2.4l2.2,0.4l-2.4,1.4zM304.5,159.2l1.8,-3.2l1.6,2.4l2.2,0.4l-2.4,1.4zM294.9,121.3l1.8,-3.2l1.6,2.4l2.2,0.4l-2.4,1.4zM303.8,75.7l1.8,-3.2l1.6,2.4l2.2,0.4l-2.4,1.4zM279.2,147.3l1.8,-3.2l1.6,2.4l2.2,0.4l-2.4,1.4zM313.7,77.0l1.8,-3.2l1.6,2.4l2.2,0.4l-2.4,1.4zM292.2,107.8l1.8,-3.2l1.6,2.4l2.2,0.4l-2.4,1.4zM306.7,244.2l1.8,-3.2l1.6,2.4l2.2,0.4l-2.4,1.4zM317.6,75.7l1.8,-3.2l1.6,2.4l2.2,0.4l-2.4,1.4zM303.8,75.8l1.8,-3.2l1.6,2.4l2.2,0.4l-2.4,1.4zM298.1,113.4l1.8,-3.2l1.6,2.4l2.2,0.4l-2.4,1.4zM278.6,154.7l1.8,-3.2l1.6,2.4l2.2,0.4l-2.4,1.4zM292.2,95.2l1.8,-3.2l1.6,2.4l2.2,0.4l-2.4,1.4zM317.6,127.0l1.8,-3.2l1.6,2.4l2.2,0.4l-2.4,1.4zM254.0,232.2l1.8,-3.2l1.6,2.4l2.2,0.4l-2.4,1.4zM284.9,129.1l1.8,-3.2l1.6,2.4l2.2,0.4l-2.4,1.4zM288.5,175.0l1.8,-3.2l1.6,2.4l2.2,0.4l-2.4,1.4zM303.0,169.4l1.8,-3.2l1.6,2.4l2.2,0.4l-2.4,1.4zM281.2,236.6l1.8,-3.2l1.6,2.4l2.2,0.4l-2.4,1.4zM320.9,106.9l1.8,-3.2l1.6,2.4l2.2,0.4l-2.4,1.4zM314.2,240.3l1.8,-3.2l1.6,2.4l2.2,0.4l-2.4,1.4zM274.6,161.3l1.8,-3.2l1.6,2.4l2.2,0.4l-2.4,1.4zM294.6,245.5l1.8,-3.2l1.6,2.4l2.2,0.4l-2.4,1.4zM276.0,176.7l1.8,-3.2l1.6,2.4l2.2,0.4l-2.4,1.4zM282.3,90.9l1.8,-3.2l1.6,2.4l2.2,0.4l-2.4,1.4zM300.3,75.4l1.8,-3.2l1.6,2.4l2.2,0.4l-2.4,1.4zM287.3,60.5l1.8,-3.2l1.6,2.4l2.2,0.4l-2.4,1.4zM298.2,64.7l1.8,-3.2l1.6,2.4l2.2,0.4l-2.4,1.4zM321.9,130.0l1.8,-3.2l1.6,2.4l2.2,0.4l-2.4,1.4zM266.6,212.1l1.8,-3.2l1.6,2.4l2.2,0.4l-2.4,1.4zM282.3,80.7l1.8,-3.2l1.6,2.4l2.2,0.4l-2.4,1.4zM288.1,209.0l1.8,-3.2l1.6,2.4l2.2,0.4l-2.4,1.4zM272.0,111.6l1.8,-3.2l1.6,2.4l2.2,0.4l-2.4,1.4zM311.0,91.6l1.8,-3.2l1.6,2.4l2.2,0.4l-2.4,1.4zM287.8,186.0l1.8,-3.2l1.6,2.4l2.2,0.4l-2.4,1.4zM292.3,227.2l1.8,-3.2l1.6,2.4l2.2,0.4l-2.4,1.4zM260.3,225.4l1.8,-3.2l1.6,2.4l2.2,0.4l-2.4,1.4zM309.2,89.0l1.8,-3.2l1.6,2.4l2.2,0.4l-2.4,1.4zM302.9,98.1l1.8,-3.2l1.6,2.4l2.2,0.4l-2.4,1.4zM282.3,77.1l1.8,-3.2l1.6,2.4l2.2,0.4l-2.4,1.4zM254.6,272.9l1.8,-3.2l1.6,2.4l2.2,0.4l-2.4,1.4zM295.8,133.6l1.8,-3.2l1.6,2.4l2.2,0.4l-2.4,1.4zM276.7,199.5l1.8,-3.2l1.6,2.4l2.2,0.4l-2.4,1.4zM302.1,117.0l1.8,-3.2l1.6,2.4l2.2,0.4l-2.4,1.4zM312.7,80.9l1.8,-3.2l1.6,2.4l2.2,0.4l-2.4,1.4zM300.8,93.1l1.8,-3.2l1.6,2.4l2.2,0.4l-2.4,1.4zM282.9,138.5l1.8,-3.2l1.6,2.4l2.2,0.4l-2.4,1.4zM274.9,202.7l1.8,-3.2l1.6,2.4l2.2,0.4l-2.4,1.4zM270.3,167.8l1.8,-3.2l1.6,2.4l2.2,0.4l-2.4,1.4zM273.6,164.3l1.8,-3.2l1.6,2.4l2.2,0.4l-2.4,1.4zM279.3,196.8l1.8,-3.2l1.6,2.4l2.2,0.4l-2.4,1.4zM275.0,99.4l1.8,-3.2l1.6,2.4l2.2,0.4l-2.4,1.4z"/>
<path d="M277.5,100.0V380.0M274.5,118.0V380.0M271.5,140.0V380.0M269.5,163.0V380.0M265.5,189.0V380.0M261.5,211.0V380.0M257.5,227.0V380.0M253.5,248.0V380.0M249.5,267.0V380.0M245.5,285.0V380.0M242.5,301.0V380.0M237.5,317.0V380.0M233.5,329.0V380.0M229.5,344.0V380.0M225.5,358.0V380.0M221.5,368.0V380.0M216.5,378.0V380.0M212.5,385.0V380.0M209.5,390.0V380.0" stroke="#fdcc8a" stroke-width="0.9" stroke-dasharray="1.6,5.5" opacity="0.75" fill="none"/>
<path fill="#fdcc8a" d="M324.5,64.0a1.8,1.8 0 1,0 3.6,0a1.8,1.8 0 1,0 -3.6,0M324.5,81.0a1.8,1.8 0 1,0 3.6,0a1.8,1.8 0 1,0 -3.6,0M324.5,98.0a1.8,1.8 0 1,0 3.6,0a1.8,1.8 0 1,0 -3.6,0M324.5,115.0a1.8,1.8 0 1,0 3.6,0a1.8,1.8 0 1,0 -3.6,0M324.5,132.0a1.8,1.8 0 1,0 3.6,0a1.8,1.8 0 1,0 -3.6,0M324.5,149.0a1.8,1.8 0 1,0 3.6,0a1.8,1.8 0 1,0 -3.6,0M324.5,166.0a1.8,1.8 0 1,0 3.6,0a1.8,1.8 0 1,0 -3.6,0M324.5,183.0a1.8,1.8 0 1,0 3.6,0a1.8,1.8 0 1,0 -3.6,0M324.5,200.0a1.8,1.8 0 1,0 3.6,0a1.8,1.8 0 1,0 -3.6,0M324.5,217.0a1.8,1.8 0 1,0 3.6,0a1.8,1.8 0 1,0 -3.6,0M324.5,234.0a1.8,1.8 0 1,0 3.6,0a1.8,1.8 0 1,0 -3.6,0M324.5,251.0a1.8,1.8 0 1,0 3.6,0a1.8,1.8 0 1,0 -3.6,0M324.5,268.0a1.8,1.8 0 1,0 3.6,0a1.8,1.8 0 1,0 -3.6,0M324.5,285.0a1.8,1.8 0 1,0 3.6,0a1.8,1.8 0 1,0 -3.6,0M324.5,302.0a1.8,1.8 0 1,0 3.6,0a1.8,1.8 0 1,0 -3.6,0M324.5,319.0a1.8,1.8 0 1,0 3.6,0a1.8,1.8 0 1,0 -3.6,0M324.5,336.0a1.8,1.8 0 1,0 3.6,0a1.8,1.8 0 1,0 -3.6,0M324.5,353.0a1.8,1.8 0 1,0 3.6,0a1.8,1.8 0 1,0 -3.6,0M324.5,370.0a1.8,1.8 0 1,0 3.6,0a1.8,1.8 0 1,0 -3.6,0M324.5,387.0a1.8,1.8 0 1,0 3.6,0a1.8,1.8 0 1,0 -3.6,0M324.5,404.0a1.8,1.8 0 1,0 3.6,0a1.8,1.8 0 1,0 -3.6,0M324.5,421.0a1.8,1.8 0 1,0 3.6,0a1.8,1.8 0 1,0 -3.6,0M324.5,438.0a1.8,1.8 0 1,0 3.6,0a1.8,1.8 0 1,0 -3.6,0M324.5,455.0a1.8,1.8 0 1,0 3.6,0a1.8,1.8 0 1,0 -3.6,0"/>
<polygon points="217.0,462.0 217.0,447.0 222.7,447.0 222.7,432.6 229.7,432.6 229.7,418.7 236.6,418.7 236.6,405.7 241.8,405.7 241.8,386.7 246.0,386.7 246.0,375.4 250.5,375.4 250.5,372.8 265.0,378.9 290.0,381.0 328.0,386.0 328.0,462.0" fill="#fdcc8a"/>
<polygon points="173.5,451.0 194.0,451.0 194.0,456.0 221.0,456.0 221.0,462.0 328.0,462.0 328.0,473.0 173.5,473.0" fill="#fdcc8a"/>
<polygon points="164.0,476.0 166.0,475.5 168.5,473.0 171.0,474.5 173.5,472.0 176.0,473.5 178.5,471.0 181.0,472.6 183.5,470.1 186.0,471.6 188.5,469.1 191.0,470.6 193.5,468.1 196.0,469.6 198.5,467.1 201.0,468.6 203.5,466.1 206.0,467.7 208.5,465.2 211.0,466.7 213.5,464.2 216.0,465.7 218.5,463.2 221.0,464.7 223.5,462.2 226.0,463.7 228.5,461.2 231.0,462.8 233.5,460.3 236.0,461.8 238.5,459.3 241.0,461.0 243.5,458.5 246.0,460.8 248.5,458.3 251.0,460.7 253.5,458.2 256.0,460.5 258.5,458.0 261.0,460.4 263.5,457.9 266.0,460.3 268.5,457.8 271.0,460.1 273.5,457.6 276.0,460.0 278.5,457.5 281.0,459.8 283.5,457.3 286.0,459.7 288.5,457.2 291.0,459.6 293.5,457.1 296.0,459.4 298.5,456.9 301.0,459.3 303.5,456.8 306.0,459.1 308.5,456.6 311.0,459.0 313.5,456.5 316.0,458.8 318.5,456.3 321.0,458.7 323.5,456.2 326.0,458.6 328.5,456.1 328.0,458.5 328.0,472.5 250.0,473.0 245.0,475.8 164.0,476.0" fill="#d7301f"/>
<path d="M343.5,456.0 L343.5,468.0" fill="none" stroke="#d7301f" stroke-width="9.0" stroke-linecap="round" stroke-linejoin="round"/>
<path fill="#fdcc8a" d="M338.1,56.0a4.5,4.5 0 1,0 9.0,0a4.5,4.5 0 1,0 -9.0,0M338.1,64.4a4.5,4.5 0 1,0 9.0,0a4.5,4.5 0 1,0 -9.0,0M338.1,72.8a4.5,4.5 0 1,0 9.0,0a4.5,4.5 0 1,0 -9.0,0M338.1,81.2a4.5,4.5 0 1,0 9.0,0a4.5,4.5 0 1,0 -9.0,0M338.1,89.6a4.5,4.5 0 1,0 9.0,0a4.5,4.5 0 1,0 -9.0,0M338.1,98.0a4.5,4.5 0 1,0 9.0,0a4.5,4.5 0 1,0 -9.0,0M338.1,106.4a4.5,4.5 0 1,0 9.0,0a4.5,4.5 0 1,0 -9.0,0M338.1,114.8a4.5,4.5 0 1,0 9.0,0a4.5,4.5 0 1,0 -9.0,0M338.1,123.2a4.5,4.5 0 1,0 9.0,0a4.5,4.5 0 1,0 -9.0,0M338.1,131.6a4.5,4.5 0 1,0 9.0,0a4.5,4.5 0 1,0 -9.0,0M338.1,140.0a4.5,4.5 0 1,0 9.0,0a4.5,4.5 0 1,0 -9.0,0M338.1,148.4a4.5,4.5 0 1,0 9.0,0a4.5,4.5 0 1,0 -9.0,0M338.1,156.8a4.5,4.5 0 1,0 9.0,0a4.5,4.5 0 1,0 -9.0,0M338.1,165.2a4.5,4.5 0 1,0 9.0,0a4.5,4.5 0 1,0 -9.0,0M338.1,173.6a4.5,4.5 0 1,0 9.0,0a4.5,4.5 0 1,0 -9.0,0M338.1,182.0a4.5,4.5 0 1,0 9.0,0a4.5,4.5 0 1,0 -9.0,0M338.1,190.4a4.5,4.5 0 1,0 9.0,0a4.5,4.5 0 1,0 -9.0,0M338.1,198.8a4.5,4.5 0 1,0 9.0,0a4.5,4.5 0 1,0 -9.0,0"/>
<line x1="342.6" y1="200.0" x2="342.6" y2="454.0" stroke="#fdcc8a" stroke-width="9.0" stroke-linecap="round"/>
<path d="M360.5,455.0 Q361,461.0 363,467.0" fill="none" stroke="#d7301f" stroke-width="9.0" stroke-linecap="round" stroke-linejoin="round"/>
<path fill="#fdcc8a" d="M355.5,56.0a4.5,4.5 0 1,0 9.0,0a4.5,4.5 0 1,0 -9.0,0M355.5,64.4a4.5,4.5 0 1,0 9.0,0a4.5,4.5 0 1,0 -9.0,0M355.5,72.8a4.5,4.5 0 1,0 9.0,0a4.5,4.5 0 1,0 -9.0,0M355.5,81.2a4.5,4.5 0 1,0 9.0,0a4.5,4.5 0 1,0 -9.0,0M355.5,89.6a4.5,4.5 0 1,0 9.0,0a4.5,4.5 0 1,0 -9.0,0M355.5,98.0a4.5,4.5 0 1,0 9.0,0a4.5,4.5 0 1,0 -9.0,0M355.5,106.4a4.5,4.5 0 1,0 9.0,0a4.5,4.5 0 1,0 -9.0,0M355.5,114.8a4.5,4.5 0 1,0 9.0,0a4.5,4.5 0 1,0 -9.0,0M355.5,123.2a4.5,4.5 0 1,0 9.0,0a4.5,4.5 0 1,0 -9.0,0M355.5,131.6a4.5,4.5 0 1,0 9.0,0a4.5,4.5 0 1,0 -9.0,0M355.5,140.0a4.5,4.5 0 1,0 9.0,0a4.5,4.5 0 1,0 -9.0,0M355.5,148.4a4.5,4.5 0 1,0 9.0,0a4.5,4.5 0 1,0 -9.0,0M355.5,156.8a4.5,4.5 0 1,0 9.0,0a4.5,4.5 0 1,0 -9.0,0M355.5,165.2a4.5,4.5 0 1,0 9.0,0a4.5,4.5 0 1,0 -9.0,0M355.5,173.6a4.5,4.5 0 1,0 9.0,0a4.5,4.5 0 1,0 -9.0,0M355.5,182.0a4.5,4.5 0 1,0 9.0,0a4.5,4.5 0 1,0 -9.0,0M355.5,190.4a4.5,4.5 0 1,0 9.0,0a4.5,4.5 0 1,0 -9.0,0M355.5,198.8a4.5,4.5 0 1,0 9.0,0a4.5,4.5 0 1,0 -9.0,0"/>
<line x1="360.0" y1="200.0" x2="360.0" y2="453.0" stroke="#fdcc8a" stroke-width="9.0" stroke-linecap="round"/>
<path d="M380,453.0 Q381,460.0 384,465.0" fill="none" stroke="#d7301f" stroke-width="9.0" stroke-linecap="round" stroke-linejoin="round"/>
<path fill="#fdcc8a" d="M374.9,56.0a4.5,4.5 0 1,0 9.0,0a4.5,4.5 0 1,0 -9.0,0M374.9,64.4a4.5,4.5 0 1,0 9.0,0a4.5,4.5 0 1,0 -9.0,0M374.9,72.8a4.5,4.5 0 1,0 9.0,0a4.5,4.5 0 1,0 -9.0,0M374.9,81.2a4.5,4.5 0 1,0 9.0,0a4.5,4.5 0 1,0 -9.0,0M374.9,89.6a4.5,4.5 0 1,0 9.0,0a4.5,4.5 0 1,0 -9.0,0M374.9,98.0a4.5,4.5 0 1,0 9.0,0a4.5,4.5 0 1,0 -9.0,0M374.9,106.4a4.5,4.5 0 1,0 9.0,0a4.5,4.5 0 1,0 -9.0,0M374.9,114.8a4.5,4.5 0 1,0 9.0,0a4.5,4.5 0 1,0 -9.0,0M374.9,123.2a4.5,4.5 0 1,0 9.0,0a4.5,4.5 0 1,0 -9.0,0M374.9,131.6a4.5,4.5 0 1,0 9.0,0a4.5,4.5 0 1,0 -9.0,0M374.9,140.0a4.5,4.5 0 1,0 9.0,0a4.5,4.5 0 1,0 -9.0,0M374.9,148.4a4.5,4.5 0 1,0 9.0,0a4.5,4.5 0 1,0 -9.0,0M374.9,156.8a4.5,4.5 0 1,0 9.0,0a4.5,4.5 0 1,0 -9.0,0M374.9,165.2a4.5,4.5 0 1,0 9.0,0a4.5,4.5 0 1,0 -9.0,0M374.9,173.6a4.5,4.5 0 1,0 9.0,0a4.5,4.5 0 1,0 -9.0,0M374.9,182.0a4.5,4.5 0 1,0 9.0,0a4.5,4.5 0 1,0 -9.0,0M374.9,190.4a4.5,4.5 0 1,0 9.0,0a4.5,4.5 0 1,0 -9.0,0M374.9,198.8a4.5,4.5 0 1,0 9.0,0a4.5,4.5 0 1,0 -9.0,0"/>
<line x1="379.4" y1="200.0" x2="379.4" y2="451.0" stroke="#fdcc8a" stroke-width="9.0" stroke-linecap="round"/>
<path d="M400,451.0 Q401,459.0 403,465.0" fill="none" stroke="#d7301f" stroke-width="9.0" stroke-linecap="round" stroke-linejoin="round"/>
<path fill="#fdcc8a" d="M394.9,56.0a4.5,4.5 0 1,0 9.0,0a4.5,4.5 0 1,0 -9.0,0M394.9,64.4a4.5,4.5 0 1,0 9.0,0a4.5,4.5 0 1,0 -9.0,0M394.9,72.8a4.5,4.5 0 1,0 9.0,0a4.5,4.5 0 1,0 -9.0,0M394.9,81.2a4.5,4.5 0 1,0 9.0,0a4.5,4.5 0 1,0 -9.0,0M394.9,89.6a4.5,4.5 0 1,0 9.0,0a4.5,4.5 0 1,0 -9.0,0M394.9,98.0a4.5,4.5 0 1,0 9.0,0a4.5,4.5 0 1,0 -9.0,0M394.9,106.4a4.5,4.5 0 1,0 9.0,0a4.5,4.5 0 1,0 -9.0,0M394.9,114.8a4.5,4.5 0 1,0 9.0,0a4.5,4.5 0 1,0 -9.0,0M394.9,123.2a4.5,4.5 0 1,0 9.0,0a4.5,4.5 0 1,0 -9.0,0M394.9,131.6a4.5,4.5 0 1,0 9.0,0a4.5,4.5 0 1,0 -9.0,0M394.9,140.0a4.5,4.5 0 1,0 9.0,0a4.5,4.5 0 1,0 -9.0,0M394.9,148.4a4.5,4.5 0 1,0 9.0,0a4.5,4.5 0 1,0 -9.0,0M394.9,156.8a4.5,4.5 0 1,0 9.0,0a4.5,4.5 0 1,0 -9.0,0M394.9,165.2a4.5,4.5 0 1,0 9.0,0a4.5,4.5 0 1,0 -9.0,0M394.9,173.6a4.5,4.5 0 1,0 9.0,0a4.5,4.5 0 1,0 -9.0,0M394.9,182.0a4.5,4.5 0 1,0 9.0,0a4.5,4.5 0 1,0 -9.0,0M394.9,190.4a4.5,4.5 0 1,0 9.0,0a4.5,4.5 0 1,0 -9.0,0M394.9,198.8a4.5,4.5 0 1,0 9.0,0a4.5,4.5 0 1,0 -9.0,0"/>
<line x1="399.4" y1="200.0" x2="399.4" y2="449.0" stroke="#fdcc8a" stroke-width="9.0" stroke-linecap="round"/>
<path d="M420,447.0 Q421,457.0 423,464.0" fill="none" stroke="#d7301f" stroke-width="9.0" stroke-linecap="round" stroke-linejoin="round"/>
<path fill="#fdcc8a" d="M414.4,56.0a4.5,4.5 0 1,0 9.0,0a4.5,4.5 0 1,0 -9.0,0M414.4,64.4a4.5,4.5 0 1,0 9.0,0a4.5,4.5 0 1,0 -9.0,0M414.4,72.8a4.5,4.5 0 1,0 9.0,0a4.5,4.5 0 1,0 -9.0,0M414.4,81.2a4.5,4.5 0 1,0 9.0,0a4.5,4.5 0 1,0 -9.0,0M414.4,89.6a4.5,4.5 0 1,0 9.0,0a4.5,4.5 0 1,0 -9.0,0M414.4,98.0a4.5,4.5 0 1,0 9.0,0a4.5,4.5 0 1,0 -9.0,0M414.4,106.4a4.5,4.5 0 1,0 9.0,0a4.5,4.5 0 1,0 -9.0,0M414.4,114.8a4.5,4.5 0 1,0 9.0,0a4.5,4.5 0 1,0 -9.0,0M414.4,123.2a4.5,4.5 0 1,0 9.0,0a4.5,4.5 0 1,0 -9.0,0M414.4,131.6a4.5,4.5 0 1,0 9.0,0a4.5,4.5 0 1,0 -9.0,0M414.4,140.0a4.5,4.5 0 1,0 9.0,0a4.5,4.5 0 1,0 -9.0,0M414.4,148.4a4.5,4.5 0 1,0 9.0,0a4.5,4.5 0 1,0 -9.0,0M414.4,156.8a4.5,4.5 0 1,0 9.0,0a4.5,4.5 0 1,0 -9.0,0M414.4,165.2a4.5,4.5 0 1,0 9.0,0a4.5,4.5 0 1,0 -9.0,0M414.4,173.6a4.5,4.5 0 1,0 9.0,0a4.5,4.5 0 1,0 -9.0,0M414.4,182.0a4.5,4.5 0 1,0 9.0,0a4.5,4.5 0 1,0 -9.0,0M414.4,190.4a4.5,4.5 0 1,0 9.0,0a4.5,4.5 0 1,0 -9.0,0M414.4,198.8a4.5,4.5 0 1,0 9.0,0a4.5,4.5 0 1,0 -9.0,0"/>
<line x1="418.9" y1="200.0" x2="418.9" y2="448.0" stroke="#fdcc8a" stroke-width="9.0" stroke-linecap="round"/>
<path d="M439,444.0 Q440,455.0 443,464.0" fill="none" stroke="#d7301f" stroke-width="9.0" stroke-linecap="round" stroke-linejoin="round"/>
<line x1="438.5" y1="420.0" x2="438.5" y2="446.0" stroke="#fdcc8a" stroke-width="9.0" stroke-linecap="round"/>
<path d="M459,440.0 Q460,453.0 463,464.0" fill="none" stroke="#d7301f" stroke-width="9.0" stroke-linecap="round" stroke-linejoin="round"/>
<path fill="#fdcc8a" d="M453.0,56.0a4.5,4.5 0 1,0 9.0,0a4.5,4.5 0 1,0 -9.0,0M453.0,64.4a4.5,4.5 0 1,0 9.0,0a4.5,4.5 0 1,0 -9.0,0M453.0,72.8a4.5,4.5 0 1,0 9.0,0a4.5,4.5 0 1,0 -9.0,0M453.0,81.2a4.5,4.5 0 1,0 9.0,0a4.5,4.5 0 1,0 -9.0,0M453.0,89.6a4.5,4.5 0 1,0 9.0,0a4.5,4.5 0 1,0 -9.0,0M453.0,98.0a4.5,4.5 0 1,0 9.0,0a4.5,4.5 0 1,0 -9.0,0M453.0,106.4a4.5,4.5 0 1,0 9.0,0a4.5,4.5 0 1,0 -9.0,0M453.0,114.8a4.5,4.5 0 1,0 9.0,0a4.5,4.5 0 1,0 -9.0,0M453.0,123.2a4.5,4.5 0 1,0 9.0,0a4.5,4.5 0 1,0 -9.0,0M453.0,131.6a4.5,4.5 0 1,0 9.0,0a4.5,4.5 0 1,0 -9.0,0M453.0,140.0a4.5,4.5 0 1,0 9.0,0a4.5,4.5 0 1,0 -9.0,0M453.0,148.4a4.5,4.5 0 1,0 9.0,0a4.5,4.5 0 1,0 -9.0,0M453.0,156.8a4.5,4.5 0 1,0 9.0,0a4.5,4.5 0 1,0 -9.0,0M453.0,165.2a4.5,4.5 0 1,0 9.0,0a4.5,4.5 0 1,0 -9.0,0M453.0,173.6a4.5,4.5 0 1,0 9.0,0a4.5,4.5 0 1,0 -9.0,0M453.0,182.0a4.5,4.5 0 1,0 9.0,0a4.5,4.5 0 1,0 -9.0,0M453.0,190.4a4.5,4.5 0 1,0 9.0,0a4.5,4.5 0 1,0 -9.0,0M453.0,198.8a4.5,4.5 0 1,0 9.0,0a4.5,4.5 0 1,0 -9.0,0"/>
<line x1="457.5" y1="200.0" x2="457.5" y2="445.0" stroke="#fdcc8a" stroke-width="9.0" stroke-linecap="round"/>
<path d="M480,438.0 Q481,451.0 483.4,463.0" fill="none" stroke="#d7301f" stroke-width="9.0" stroke-linecap="round" stroke-linejoin="round"/>
<line x1="476.8" y1="207.0" x2="476.8" y2="443.0" stroke="#fdcc8a" stroke-width="9.0" stroke-linecap="round"/>
<path d="M501,438.0 Q502,451.0 504,463.0" fill="none" stroke="#d7301f" stroke-width="9.0" stroke-linecap="round" stroke-linejoin="round"/>
<line x1="496.4" y1="254.0" x2="496.4" y2="442.0" stroke="#fdcc8a" stroke-width="9.0" stroke-linecap="round"/>
<path d="M521,433.0 Q522,448.0 524,462.0" fill="none" stroke="#d7301f" stroke-width="9.0" stroke-linecap="round" stroke-linejoin="round"/>
<line x1="515.4" y1="261.0" x2="515.4" y2="439.0" stroke="#fdcc8a" stroke-width="9.0" stroke-linecap="round"/>
<path d="M539,431.0 Q541,448.0 544,461.0" fill="none" stroke="#d7301f" stroke-width="9.0" stroke-linecap="round" stroke-linejoin="round"/>
<line x1="534.5" y1="259.0" x2="534.5" y2="439.0" stroke="#fdcc8a" stroke-width="9.0" stroke-linecap="round"/>
<path d="M558,429.0 Q561,448.0 565,460.0" fill="none" stroke="#d7301f" stroke-width="9.0" stroke-linecap="round" stroke-linejoin="round"/>
<line x1="553.5" y1="245.0" x2="553.5" y2="436.0" stroke="#fdcc8a" stroke-width="9.0" stroke-linecap="round"/>
<path d="M594,437 Q593,455 605,463" fill="none" stroke="#d7301f" stroke-width="9.0" stroke-linecap="round" stroke-linejoin="round"/>
<line x1="592.4" y1="218.0" x2="592.4" y2="434.0" stroke="#fdcc8a" stroke-width="9.0" stroke-linecap="round"/>
<path d="M628.5,436 Q628,453 645,460" fill="none" stroke="#d7301f" stroke-width="9.0" stroke-linecap="round" stroke-linejoin="round"/>
<line x1="627.7" y1="278.0" x2="627.7" y2="432.0" stroke="#fdcc8a" stroke-width="9.0" stroke-linecap="round"/>
<path d="M663.5,435 Q663,453 684,458" fill="none" stroke="#d7301f" stroke-width="9.0" stroke-linecap="round" stroke-linejoin="round"/>
<line x1="662.5" y1="242.0" x2="662.5" y2="429.0" stroke="#fdcc8a" stroke-width="9.0" stroke-linecap="round"/>
<path d="M697,408 L697,428 Q700,448 724,457" fill="none" stroke="#d7301f" stroke-width="9.0" stroke-linecap="round" stroke-linejoin="round"/>
<line x1="696.2" y1="131.0" x2="696.2" y2="399.0" stroke="#fdcc8a" stroke-width="9.0" stroke-linecap="round"/>
<path d="M729.5,404 L732,428 Q738,446 768,456" fill="none" stroke="#d7301f" stroke-width="9.0" stroke-linecap="round" stroke-linejoin="round"/>
<line x1="728.8" y1="131.0" x2="728.8" y2="393.0" stroke="#fdcc8a" stroke-width="9.0" stroke-linecap="round"/>
<path fill="#d7301f" d="M692.5,408.0a4.5,4.5 0 1,0 9.0,0a4.5,4.5 0 1,0 -9.0,0M725.0,404.0a4.5,4.5 0 1,0 9.0,0a4.5,4.5 0 1,0 -9.0,0"/>
<line x1="343.2" y1="52.0" x2="343.2" y2="458.0" stroke="#fdcc8a" stroke-width="9.5" stroke-linecap="round"/>
<path fill="#fc8d59" d="M338.3,66.7a4.5,4.5 0 1,0 9.0,0a4.5,4.5 0 1,0 -9.0,0M337.8,75.0a4.5,4.5 0 1,0 9.0,0a4.5,4.5 0 1,0 -9.0,0M338.3,88.2a4.5,4.5 0 1,0 9.0,0a4.5,4.5 0 1,0 -9.0,0M337.8,96.5a4.5,4.5 0 1,0 9.0,0a4.5,4.5 0 1,0 -9.0,0M338.3,109.7a4.5,4.5 0 1,0 9.0,0a4.5,4.5 0 1,0 -9.0,0M337.8,118.0a4.5,4.5 0 1,0 9.0,0a4.5,4.5 0 1,0 -9.0,0M338.3,131.2a4.5,4.5 0 1,0 9.0,0a4.5,4.5 0 1,0 -9.0,0M337.8,139.5a4.5,4.5 0 1,0 9.0,0a4.5,4.5 0 1,0 -9.0,0M338.3,152.7a4.5,4.5 0 1,0 9.0,0a4.5,4.5 0 1,0 -9.0,0M337.8,161.0a4.5,4.5 0 1,0 9.0,0a4.5,4.5 0 1,0 -9.0,0M338.3,174.2a4.5,4.5 0 1,0 9.0,0a4.5,4.5 0 1,0 -9.0,0M337.8,182.5a4.5,4.5 0 1,0 9.0,0a4.5,4.5 0 1,0 -9.0,0M338.3,195.7a4.5,4.5 0 1,0 9.0,0a4.5,4.5 0 1,0 -9.0,0M337.8,204.0a4.5,4.5 0 1,0 9.0,0a4.5,4.5 0 1,0 -9.0,0M338.9,215.0a4.5,4.5 0 1,0 9.0,0a4.5,4.5 0 1,0 -9.0,0M337.5,226.5a4.5,4.5 0 1,0 9.0,0a4.5,4.5 0 1,0 -9.0,0M337.5,238.0a4.5,4.5 0 1,0 9.0,0a4.5,4.5 0 1,0 -9.0,0M338.9,249.5a4.5,4.5 0 1,0 9.0,0a4.5,4.5 0 1,0 -9.0,0M338.9,261.0a4.5,4.5 0 1,0 9.0,0a4.5,4.5 0 1,0 -9.0,0M337.5,272.5a4.5,4.5 0 1,0 9.0,0a4.5,4.5 0 1,0 -9.0,0M337.5,284.0a4.5,4.5 0 1,0 9.0,0a4.5,4.5 0 1,0 -9.0,0M338.9,295.5a4.5,4.5 0 1,0 9.0,0a4.5,4.5 0 1,0 -9.0,0M338.9,307.0a4.5,4.5 0 1,0 9.0,0a4.5,4.5 0 1,0 -9.0,0M337.5,318.5a4.5,4.5 0 1,0 9.0,0a4.5,4.5 0 1,0 -9.0,0M337.5,330.0a4.5,4.5 0 1,0 9.0,0a4.5,4.5 0 1,0 -9.0,0M338.9,341.5a4.5,4.5 0 1,0 9.0,0a4.5,4.5 0 1,0 -9.0,0M338.9,353.0a4.5,4.5 0 1,0 9.0,0a4.5,4.5 0 1,0 -9.0,0M337.5,364.5a4.5,4.5 0 1,0 9.0,0a4.5,4.5 0 1,0 -9.0,0M337.5,376.0a4.5,4.5 0 1,0 9.0,0a4.5,4.5 0 1,0 -9.0,0"/>
<path fill="#fc8d59" d="M348.4,63.0a4.5,4.5 0 1,0 9.0,0a4.5,4.5 0 1,0 -9.0,0M347.9,68.0a4.5,4.5 0 1,0 9.0,0a4.5,4.5 0 1,0 -9.0,0M348.4,83.5a4.5,4.5 0 1,0 9.0,0a4.5,4.5 0 1,0 -9.0,0M347.9,88.5a4.5,4.5 0 1,0 9.0,0a4.5,4.5 0 1,0 -9.0,0M348.4,104.0a4.5,4.5 0 1,0 9.0,0a4.5,4.5 0 1,0 -9.0,0M347.9,109.0a4.5,4.5 0 1,0 9.0,0a4.5,4.5 0 1,0 -9.0,0M348.4,124.5a4.5,4.5 0 1,0 9.0,0a4.5,4.5 0 1,0 -9.0,0M347.9,129.5a4.5,4.5 0 1,0 9.0,0a4.5,4.5 0 1,0 -9.0,0M348.4,145.0a4.5,4.5 0 1,0 9.0,0a4.5,4.5 0 1,0 -9.0,0M347.9,150.0a4.5,4.5 0 1,0 9.0,0a4.5,4.5 0 1,0 -9.0,0M348.4,165.5a4.5,4.5 0 1,0 9.0,0a4.5,4.5 0 1,0 -9.0,0M347.9,170.5a4.5,4.5 0 1,0 9.0,0a4.5,4.5 0 1,0 -9.0,0M348.4,186.0a4.5,4.5 0 1,0 9.0,0a4.5,4.5 0 1,0 -9.0,0M347.9,191.0a4.5,4.5 0 1,0 9.0,0a4.5,4.5 0 1,0 -9.0,0M348.4,206.5a4.5,4.5 0 1,0 9.0,0a4.5,4.5 0 1,0 -9.0,0M347.9,211.5a4.5,4.5 0 1,0 9.0,0a4.5,4.5 0 1,0 -9.0,0M348.1,228.0a4.5,4.5 0 1,0 9.0,0a4.5,4.5 0 1,0 -9.0,0M348.1,237.5a4.5,4.5 0 1,0 9.0,0a4.5,4.5 0 1,0 -9.0,0M348.1,247.0a4.5,4.5 0 1,0 9.0,0a4.5,4.5 0 1,0 -9.0,0M348.1,256.5a4.5,4.5 0 1,0 9.0,0a4.5,4.5 0 1,0 -9.0,0M348.1,266.0a4.5,4.5 0 1,0 9.0,0a4.5,4.5 0 1,0 -9.0,0M348.1,275.5a4.5,4.5 0 1,0 9.0,0a4.5,4.5 0 1,0 -9.0,0M348.1,285.0a4.5,4.5 0 1,0 9.0,0a4.5,4.5 0 1,0 -9.0,0M348.1,294.5a4.5,4.5 0 1,0 9.0,0a4.5,4.5 0 1,0 -9.0,0M348.1,304.0a4.5,4.5 0 1,0 9.0,0a4.5,4.5 0 1,0 -9.0,0M348.1,313.5a4.5,4.5 0 1,0 9.0,0a4.5,4.5 0 1,0 -9.0,0M348.1,323.0a4.5,4.5 0 1,0 9.0,0a4.5,4.5 0 1,0 -9.0,0M348.1,332.5a4.5,4.5 0 1,0 9.0,0a4.5,4.5 0 1,0 -9.0,0M348.1,342.0a4.5,4.5 0 1,0 9.0,0a4.5,4.5 0 1,0 -9.0,0"/>
<path fill="#fc8d59" d="M404.9,53.5a4.5,4.5 0 1,0 9.0,0a4.5,4.5 0 1,0 -9.0,0M407.0,67.6a4.5,4.5 0 1,0 9.0,0a4.5,4.5 0 1,0 -9.0,0M404.9,81.7a4.5,4.5 0 1,0 9.0,0a4.5,4.5 0 1,0 -9.0,0M407.0,95.8a4.5,4.5 0 1,0 9.0,0a4.5,4.5 0 1,0 -9.0,0M404.9,109.9a4.5,4.5 0 1,0 9.0,0a4.5,4.5 0 1,0 -9.0,0M407.0,124.0a4.5,4.5 0 1,0 9.0,0a4.5,4.5 0 1,0 -9.0,0M404.9,138.1a4.5,4.5 0 1,0 9.0,0a4.5,4.5 0 1,0 -9.0,0M407.0,152.2a4.5,4.5 0 1,0 9.0,0a4.5,4.5 0 1,0 -9.0,0M404.9,166.3a4.5,4.5 0 1,0 9.0,0a4.5,4.5 0 1,0 -9.0,0M407.0,180.4a4.5,4.5 0 1,0 9.0,0a4.5,4.5 0 1,0 -9.0,0M404.9,199.8a4.5,4.5 0 1,0 9.0,0a4.5,4.5 0 1,0 -9.0,0M406.9,203.0a4.5,4.5 0 1,0 9.0,0a4.5,4.5 0 1,0 -9.0,0M404.9,217.9a4.5,4.5 0 1,0 9.0,0a4.5,4.5 0 1,0 -9.0,0M406.9,221.1a4.5,4.5 0 1,0 9.0,0a4.5,4.5 0 1,0 -9.0,0M404.9,237.5a4.5,4.5 0 1,0 9.0,0a4.5,4.5 0 1,0 -9.0,0M406.9,240.7a4.5,4.5 0 1,0 9.0,0a4.5,4.5 0 1,0 -9.0,0M404.9,255.6a4.5,4.5 0 1,0 9.0,0a4.5,4.5 0 1,0 -9.0,0M406.9,258.8a4.5,4.5 0 1,0 9.0,0a4.5,4.5 0 1,0 -9.0,0M404.9,271.0a4.5,4.5 0 1,0 9.0,0a4.5,4.5 0 1,0 -9.0,0M406.9,274.2a4.5,4.5 0 1,0 9.0,0a4.5,4.5 0 1,0 -9.0,0M404.9,286.4a4.5,4.5 0 1,0 9.0,0a4.5,4.5 0 1,0 -9.0,0M406.9,289.6a4.5,4.5 0 1,0 9.0,0a4.5,4.5 0 1,0 -9.0,0M404.9,301.6a4.5,4.5 0 1,0 9.0,0a4.5,4.5 0 1,0 -9.0,0M406.9,304.8a4.5,4.5 0 1,0 9.0,0a4.5,4.5 0 1,0 -9.0,0M404.9,312.8a4.5,4.5 0 1,0 9.0,0a4.5,4.5 0 1,0 -9.0,0M406.9,316.0a4.5,4.5 0 1,0 9.0,0a4.5,4.5 0 1,0 -9.0,0M404.9,325.5a4.5,4.5 0 1,0 9.0,0a4.5,4.5 0 1,0 -9.0,0M406.9,328.7a4.5,4.5 0 1,0 9.0,0a4.5,4.5 0 1,0 -9.0,0M404.9,338.0a4.5,4.5 0 1,0 9.0,0a4.5,4.5 0 1,0 -9.0,0M406.9,341.2a4.5,4.5 0 1,0 9.0,0a4.5,4.5 0 1,0 -9.0,0M404.9,350.0a4.5,4.5 0 1,0 9.0,0a4.5,4.5 0 1,0 -9.0,0M406.9,353.2a4.5,4.5 0 1,0 9.0,0a4.5,4.5 0 1,0 -9.0,0M404.9,361.0a4.5,4.5 0 1,0 9.0,0a4.5,4.5 0 1,0 -9.0,0M406.9,364.2a4.5,4.5 0 1,0 9.0,0a4.5,4.5 0 1,0 -9.0,0M404.9,371.0a4.5,4.5 0 1,0 9.0,0a4.5,4.5 0 1,0 -9.0,0M406.9,374.2a4.5,4.5 0 1,0 9.0,0a4.5,4.5 0 1,0 -9.0,0"/>
<path fill="#fc8d59" d="M433.8,93.2a4.5,4.5 0 1,0 9.0,0a4.5,4.5 0 1,0 -9.0,0M433.8,139.3a4.5,4.5 0 1,0 9.0,0a4.5,4.5 0 1,0 -9.0,0M433.8,179.4a4.5,4.5 0 1,0 9.0,0a4.5,4.5 0 1,0 -9.0,0M433.8,213.6a4.5,4.5 0 1,0 9.0,0a4.5,4.5 0 1,0 -9.0,0M433.8,246.9a4.5,4.5 0 1,0 9.0,0a4.5,4.5 0 1,0 -9.0,0M433.8,274.0a4.5,4.5 0 1,0 9.0,0a4.5,4.5 0 1,0 -9.0,0M433.8,297.9a4.5,4.5 0 1,0 9.0,0a4.5,4.5 0 1,0 -9.0,0M433.8,319.4a4.5,4.5 0 1,0 9.0,0a4.5,4.5 0 1,0 -9.0,0M433.8,336.8a4.5,4.5 0 1,0 9.0,0a4.5,4.5 0 1,0 -9.0,0M433.8,353.8a4.5,4.5 0 1,0 9.0,0a4.5,4.5 0 1,0 -9.0,0M433.8,368.9a4.5,4.5 0 1,0 9.0,0a4.5,4.5 0 1,0 -9.0,0M433.8,381.7a4.5,4.5 0 1,0 9.0,0a4.5,4.5 0 1,0 -9.0,0M433.8,392.7a4.5,4.5 0 1,0 9.0,0a4.5,4.5 0 1,0 -9.0,0M433.8,402.4a4.5,4.5 0 1,0 9.0,0a4.5,4.5 0 1,0 -9.0,0M433.8,410.9a4.5,4.5 0 1,0 9.0,0a4.5,4.5 0 1,0 -9.0,0M433.8,418.0a4.5,4.5 0 1,0 9.0,0a4.5,4.5 0 1,0 -9.0,0"/>
<path fill="#fc8d59" d="M471.5,57.0a4.5,4.5 0 1,0 9.0,0a4.5,4.5 0 1,0 -9.0,0M471.5,70.5a4.5,4.5 0 1,0 9.0,0a4.5,4.5 0 1,0 -9.0,0M471.5,84.0a4.5,4.5 0 1,0 9.0,0a4.5,4.5 0 1,0 -9.0,0M471.5,97.5a4.5,4.5 0 1,0 9.0,0a4.5,4.5 0 1,0 -9.0,0M471.5,111.0a4.5,4.5 0 1,0 9.0,0a4.5,4.5 0 1,0 -9.0,0M471.5,124.5a4.5,4.5 0 1,0 9.0,0a4.5,4.5 0 1,0 -9.0,0M471.5,138.0a4.5,4.5 0 1,0 9.0,0a4.5,4.5 0 1,0 -9.0,0M471.5,151.5a4.5,4.5 0 1,0 9.0,0a4.5,4.5 0 1,0 -9.0,0M471.5,165.0a4.5,4.5 0 1,0 9.0,0a4.5,4.5 0 1,0 -9.0,0M471.5,178.5a4.5,4.5 0 1,0 9.0,0a4.5,4.5 0 1,0 -9.0,0M471.5,192.0a4.5,4.5 0 1,0 9.0,0a4.5,4.5 0 1,0 -9.0,0M471.5,205.5a4.5,4.5 0 1,0 9.0,0a4.5,4.5 0 1,0 -9.0,0"/>
<path fill="#fc8d59" d="M490.9,59.0a4.5,4.5 0 1,0 9.0,0a4.5,4.5 0 1,0 -9.0,0M490.9,70.0a4.5,4.5 0 1,0 9.0,0a4.5,4.5 0 1,0 -9.0,0M490.9,81.0a4.5,4.5 0 1,0 9.0,0a4.5,4.5 0 1,0 -9.0,0M490.9,92.0a4.5,4.5 0 1,0 9.0,0a4.5,4.5 0 1,0 -9.0,0M490.9,103.0a4.5,4.5 0 1,0 9.0,0a4.5,4.5 0 1,0 -9.0,0M490.9,114.0a4.5,4.5 0 1,0 9.0,0a4.5,4.5 0 1,0 -9.0,0M490.9,125.0a4.5,4.5 0 1,0 9.0,0a4.5,4.5 0 1,0 -9.0,0M490.9,136.0a4.5,4.5 0 1,0 9.0,0a4.5,4.5 0 1,0 -9.0,0M490.9,147.0a4.5,4.5 0 1,0 9.0,0a4.5,4.5 0 1,0 -9.0,0M490.9,158.0a4.5,4.5 0 1,0 9.0,0a4.5,4.5 0 1,0 -9.0,0"/>
<line x1="495.4" y1="160.0" x2="495.4" y2="254.0" stroke="#fc8d59" stroke-width="9.0" stroke-linecap="round"/>
<path fill="#fc8d59" d="M509.0,58.0a4.5,4.5 0 1,0 9.0,0a4.5,4.5 0 1,0 -9.0,0M509.0,71.0a4.5,4.5 0 1,0 9.0,0a4.5,4.5 0 1,0 -9.0,0M509.0,84.0a4.5,4.5 0 1,0 9.0,0a4.5,4.5 0 1,0 -9.0,0M509.0,97.0a4.5,4.5 0 1,0 9.0,0a4.5,4.5 0 1,0 -9.0,0M509.0,110.0a4.5,4.5 0 1,0 9.0,0a4.5,4.5 0 1,0 -9.0,0M509.0,123.0a4.5,4.5 0 1,0 9.0,0a4.5,4.5 0 1,0 -9.0,0M509.0,136.0a4.5,4.5 0 1,0 9.0,0a4.5,4.5 0 1,0 -9.0,0M509.0,149.0a4.5,4.5 0 1,0 9.0,0a4.5,4.5 0 1,0 -9.0,0M509.0,162.0a4.5,4.5 0 1,0 9.0,0a4.5,4.5 0 1,0 -9.0,0M509.0,175.0a4.5,4.5 0 1,0 9.0,0a4.5,4.5 0 1,0 -9.0,0"/>
<line x1="514.0" y1="186.0" x2="514.0" y2="261.0" stroke="#fc8d59" stroke-width="9.0" stroke-linecap="round"/>
<path fill="#fc8d59" d="M527.5,62.0a4.5,4.5 0 1,0 9.0,0a4.5,4.5 0 1,0 -9.0,0M527.5,75.5a4.5,4.5 0 1,0 9.0,0a4.5,4.5 0 1,0 -9.0,0M527.5,89.0a4.5,4.5 0 1,0 9.0,0a4.5,4.5 0 1,0 -9.0,0M527.5,102.5a4.5,4.5 0 1,0 9.0,0a4.5,4.5 0 1,0 -9.0,0M527.5,116.0a4.5,4.5 0 1,0 9.0,0a4.5,4.5 0 1,0 -9.0,0M527.5,129.5a4.5,4.5 0 1,0 9.0,0a4.5,4.5 0 1,0 -9.0,0M527.5,143.0a4.5,4.5 0 1,0 9.0,0a4.5,4.5 0 1,0 -9.0,0M527.5,156.5a4.5,4.5 0 1,0 9.0,0a4.5,4.5 0 1,0 -9.0,0M527.5,170.0a4.5,4.5 0 1,0 9.0,0a4.5,4.5 0 1,0 -9.0,0M527.5,183.5a4.5,4.5 0 1,0 9.0,0a4.5,4.5 0 1,0 -9.0,0"/>
<line x1="533.5" y1="190.0" x2="533.5" y2="259.0" stroke="#fc8d59" stroke-width="9.0" stroke-linecap="round"/>
<path fill="#fc8d59" d="M546.5,60.0a4.5,4.5 0 1,0 9.0,0a4.5,4.5 0 1,0 -9.0,0M546.5,73.0a4.5,4.5 0 1,0 9.0,0a4.5,4.5 0 1,0 -9.0,0M546.5,86.0a4.5,4.5 0 1,0 9.0,0a4.5,4.5 0 1,0 -9.0,0M546.5,99.0a4.5,4.5 0 1,0 9.0,0a4.5,4.5 0 1,0 -9.0,0M546.5,112.0a4.5,4.5 0 1,0 9.0,0a4.5,4.5 0 1,0 -9.0,0M546.5,125.0a4.5,4.5 0 1,0 9.0,0a4.5,4.5 0 1,0 -9.0,0M546.5,138.0a4.5,4.5 0 1,0 9.0,0a4.5,4.5 0 1,0 -9.0,0M546.5,151.0a4.5,4.5 0 1,0 9.0,0a4.5,4.5 0 1,0 -9.0,0M546.5,164.0a4.5,4.5 0 1,0 9.0,0a4.5,4.5 0 1,0 -9.0,0"/>
<line x1="552.5" y1="170.0" x2="552.5" y2="245.0" stroke="#fc8d59" stroke-width="9.0" stroke-linecap="round"/>
<path fill="#fc8d59" d="M585.3,53.0a4.5,4.5 0 1,0 9.0,0a4.5,4.5 0 1,0 -9.0,0M585.3,66.0a4.5,4.5 0 1,0 9.0,0a4.5,4.5 0 1,0 -9.0,0M585.3,79.0a4.5,4.5 0 1,0 9.0,0a4.5,4.5 0 1,0 -9.0,0M585.3,92.0a4.5,4.5 0 1,0 9.0,0a4.5,4.5 0 1,0 -9.0,0M585.3,105.0a4.5,4.5 0 1,0 9.0,0a4.5,4.5 0 1,0 -9.0,0M585.3,118.0a4.5,4.5 0 1,0 9.0,0a4.5,4.5 0 1,0 -9.0,0"/>
<line x1="591.8" y1="135.0" x2="591.8" y2="218.0" stroke="#fc8d59" stroke-width="9.0" stroke-linecap="round"/>
<path fill="#fc8d59" d="M614.5,55.0a4.5,4.5 0 1,0 9.0,0a4.5,4.5 0 1,0 -9.0,0M614.8,69.0a4.5,4.5 0 1,0 9.0,0a4.5,4.5 0 1,0 -9.0,0M615.1,83.0a4.5,4.5 0 1,0 9.0,0a4.5,4.5 0 1,0 -9.0,0M615.4,97.0a4.5,4.5 0 1,0 9.0,0a4.5,4.5 0 1,0 -9.0,0M615.7,111.0a4.5,4.5 0 1,0 9.0,0a4.5,4.5 0 1,0 -9.0,0M616.0,125.0a4.5,4.5 0 1,0 9.0,0a4.5,4.5 0 1,0 -9.0,0M616.3,139.0a4.5,4.5 0 1,0 9.0,0a4.5,4.5 0 1,0 -9.0,0M616.6,153.0a4.5,4.5 0 1,0 9.0,0a4.5,4.5 0 1,0 -9.0,0M616.9,167.0a4.5,4.5 0 1,0 9.0,0a4.5,4.5 0 1,0 -9.0,0M617.2,181.0a4.5,4.5 0 1,0 9.0,0a4.5,4.5 0 1,0 -9.0,0M617.5,195.0a4.5,4.5 0 1,0 9.0,0a4.5,4.5 0 1,0 -9.0,0M617.8,209.0a4.5,4.5 0 1,0 9.0,0a4.5,4.5 0 1,0 -9.0,0M618.1,223.0a4.5,4.5 0 1,0 9.0,0a4.5,4.5 0 1,0 -9.0,0M618.4,237.0a4.5,4.5 0 1,0 9.0,0a4.5,4.5 0 1,0 -9.0,0"/>
<line x1="626.7" y1="247.0" x2="626.7" y2="278.0" stroke="#fc8d59" stroke-width="9.0" stroke-linecap="round"/>
<path fill="#fc8d59" d="M650.5,54.0a4.5,4.5 0 1,0 9.0,0a4.5,4.5 0 1,0 -9.0,0M650.9,68.0a4.5,4.5 0 1,0 9.0,0a4.5,4.5 0 1,0 -9.0,0M651.2,82.0a4.5,4.5 0 1,0 9.0,0a4.5,4.5 0 1,0 -9.0,0M651.5,96.0a4.5,4.5 0 1,0 9.0,0a4.5,4.5 0 1,0 -9.0,0M651.9,110.0a4.5,4.5 0 1,0 9.0,0a4.5,4.5 0 1,0 -9.0,0M652.2,124.0a4.5,4.5 0 1,0 9.0,0a4.5,4.5 0 1,0 -9.0,0M652.6,138.0a4.5,4.5 0 1,0 9.0,0a4.5,4.5 0 1,0 -9.0,0M653.0,152.0a4.5,4.5 0 1,0 9.0,0a4.5,4.5 0 1,0 -9.0,0M653.3,166.0a4.5,4.5 0 1,0 9.0,0a4.5,4.5 0 1,0 -9.0,0M653.6,180.0a4.5,4.5 0 1,0 9.0,0a4.5,4.5 0 1,0 -9.0,0M654.0,194.0a4.5,4.5 0 1,0 9.0,0a4.5,4.5 0 1,0 -9.0,0"/>
<line x1="661.9" y1="197.0" x2="661.9" y2="242.0" stroke="#fc8d59" stroke-width="9.0" stroke-linecap="round"/>
<line x1="695.5" y1="57.0" x2="695.5" y2="131.0" stroke="#fc8d59" stroke-width="9.0" stroke-linecap="round"/>
<line x1="728.3" y1="57.0" x2="728.3" y2="131.0" stroke="#fc8d59" stroke-width="9.0" stroke-linecap="round"/>
<path clip-path="url(#hz)" d="M150,189.05L780,-440.95M150,200.17L780,-429.83M150,211.29L780,-418.71M150,222.41L780,-407.59M150,233.53L780,-396.47M150,244.65L780,-385.35M150,255.77L780,-374.23M150,266.89L780,-363.11M150,278.01L780,-351.99M150,289.13L780,-340.87M150,300.25L780,-329.75M150,311.37L780,-318.63M150,322.49L780,-307.51M150,333.61L780,-296.39M150,344.73L780,-285.27M150,355.85L780,-274.15M150,366.97L780,-263.03M150,378.09L780,-251.91M150,389.21L780,-240.79M150,400.33L780,-229.67M150,411.45L780,-218.55M150,422.57L780,-207.43M150,433.69L780,-196.31M150,444.81L780,-185.19M150,455.93L780,-174.07M150,467.05L780,-162.95M150,478.17L780,-151.83M150,489.29L780,-140.71M150,500.41L780,-129.59M150,511.53L780,-118.47M150,522.65L780,-107.35M150,533.77L780,-96.23M150,544.89L780,-85.11M150,556.01L780,-73.99M150,567.13L780,-62.87M150,578.25L780,-51.75M150,589.37L780,-40.63M150,600.49L780,-29.51M150,611.61L780,-18.39M150,622.73L780,-7.27M150,633.85L780,3.85M150,644.97L780,14.97M150,656.09L780,26.09M150,667.21L780,37.21M150,678.33L780,48.33M150,689.45L780,59.45M150,700.57L780,70.57M150,711.69L780,81.69M150,722.81L780,92.81M150,733.93L780,103.93M150,745.05L780,115.05M150,756.17L780,126.17M150,767.29L780,137.29M150,778.41L780,148.41M150,789.53L780,159.53M150,800.65L780,170.65M150,811.77L780,181.77M150,822.89L780,192.89M150,834.01L780,204.01M150,845.13L780,215.13M150,856.25L780,226.25M150,867.37L780,237.37M150,878.49L780,248.49M150,889.61L780,259.61M150,900.73L780,270.73M150,911.85L780,281.85M150,922.97L780,292.97M150,934.09L780,304.09M150,945.21L780,315.21M150,956.33L780,326.33M150,967.45L780,337.45M150,978.57L780,348.57M150,989.69L780,359.69M150,1000.81L780,370.81M150,1011.93L780,381.93M150,1023.05L780,393.05M150,1034.17L780,404.17M150,1045.29L780,415.29M150,1056.41L780,426.41M150,1067.53L780,437.53M150,1078.65L780,448.65M150,1089.77L780,459.77M150,1100.89L780,470.89M150,1112.01L780,482.01M150,1123.13L780,493.13M150,1134.25L780,504.25M150,1145.37L780,515.37M150,1156.49L780,526.49M150,1167.61L780,537.61M150,1178.73L780,548.73M150,1189.85L780,559.85M150,1200.97L780,570.97M150,1212.09L780,582.09M150,1223.21L780,593.21M150,1234.33L780,604.33M150,1245.45L780,615.45M150,1256.57L780,626.57M150,1267.69L780,637.69M150,1278.81L780,648.81M150,1289.93L780,659.93M150,1301.05L780,671.05M150,1312.17L780,682.17M150,1323.29L780,693.29M150,1334.41L780,704.41M150,1345.53L780,715.53M150,1356.65L780,726.65M150,1367.77L780,737.77M150,1378.89L780,748.89M150,1390.01L780,760.01M150,1401.13L780,771.13" stroke="#000" stroke-width="1.3" fill="none"/>
<polyline points="164.5,457.2 166.5,452.3 168.5,448.9 170.5,446.1 172.5,443.6 174.5,441.4 176.5,439.4 178.6,437.6 180.6,435.8 182.6,434.2 184.6,432.6 186.6,431.1 188.6,429.7 190.6,428.3 192.6,427.0 194.6,425.7 196.6,424.4 198.6,423.2 200.6,422.0 202.6,420.8 204.6,419.7 206.6,418.6 208.7,417.5 210.7,416.5 212.7,415.4 214.7,414.4 216.7,413.4 218.7,412.4 220.7,411.5 222.7,410.5 224.7,409.6 226.7,408.7 228.7,407.8 230.7,406.9 232.7,406.0 234.7,405.2 236.7,404.3 238.8,403.5 240.8,402.6 242.8,401.8 244.8,401.0 246.8,400.2 248.8,399.4 250.8,398.6 252.8,397.9 254.8,397.1 256.8,396.4 258.8,395.6 260.8,394.9 262.8,394.2 264.8,393.4 266.8,392.7 268.9,392.0 270.9,391.3 272.9,390.6 274.9,389.9 276.9,389.3 278.9,388.6 280.9,387.9 282.9,387.3 284.9,386.6 286.9,386.0 288.9,385.3 290.9,384.7 292.9,384.1 294.9,383.4 296.9,382.8 299.0,382.2 301.0,381.6 303.0,381.0 305.0,380.4 307.0,379.8 309.0,379.2 311.0,378.6 313.0,378.0 315.0,377.4 317.0,376.9 319.0,376.3 321.0,375.7 323.0,375.2 325.0,374.6 327.0,374.0 329.1,373.5 331.1,372.9 333.1,372.4 335.1,371.8 337.1,371.3 339.1,370.8 341.1,370.2 343.1,369.7 345.1,369.2 347.1,368.7 349.1,368.2 351.1,367.6 353.1,367.1 355.1,366.6 357.1,366.1 359.2,365.6 361.2,365.1 363.2,364.6 365.2,364.1 367.2,363.6 369.2,363.1 371.2,362.7 373.2,362.2 375.2,361.7 377.2,361.2 379.2,360.7 381.2,360.3 383.2,359.8 385.2,359.3 387.2,358.9 389.3,358.4 391.3,357.9 393.3,357.5 395.3,357.0 397.3,356.6 399.3,356.1 401.3,355.7 403.3,355.2 405.3,354.8 407.3,354.3 409.3,353.9 411.3,353.5 413.3,353.0 415.3,352.6 417.3,352.1 419.4,351.7 421.4,351.3 423.4,350.9 425.4,350.4 427.4,350.0 429.4,349.6 431.4,349.2 433.4,348.8 435.4,348.3 437.4,347.9 439.4,347.5 441.4,347.1 443.4,346.7 445.4,346.3 447.4,345.9 449.5,345.5 451.5,345.1 453.5,344.7 455.5,344.3 457.5,343.9 459.5,343.5 461.5,343.1 463.5,342.7 465.5,342.3 467.5,341.9 469.5,341.5 471.5,341.1 473.5,340.8 475.5,340.4 477.5,340.0 479.6,339.6 481.6,339.2 483.6,338.9 485.6,338.5 487.6,338.1 489.6,337.7 491.6,337.4 493.6,337.0 495.6,336.6 497.6,336.3 499.6,335.9 501.6,335.5 503.6,335.2 505.6,334.8 507.6,334.4 509.7,334.1 511.7,333.7 513.7,333.4 515.7,333.0 517.7,332.6 519.7,332.3 521.7,331.9 523.7,331.6 525.7,331.2 527.7,330.9 529.7,330.5 531.7,330.2 533.7,329.8 535.7,329.5 537.7,329.2 539.8,328.8 541.8,328.5 543.8,328.1 545.8,327.8 547.8,327.5 549.8,327.1 551.8,326.8 553.8,326.4 555.8,326.1 557.8,325.8 559.8,325.4 561.8,325.1 563.8,324.8 565.8,324.5 567.8,324.1 569.9,323.8 571.9,323.5 573.9,323.2 575.9,322.8 577.9,322.5 579.9,322.2 581.9,321.9 583.9,321.5 585.9,321.2 587.9,320.9 589.9,320.6 591.9,320.3 593.9,320.0 595.9,319.6 597.9,319.3 600.0,319.0 602.0,318.7 604.0,318.4 606.0,318.1 608.0,317.8 610.0,317.5 612.0,317.2 614.0,316.8 616.0,316.5 618.0,316.2 620.0,315.9 622.0,315.6 624.0,315.3 626.0,315.0 628.0,314.7 630.1,314.4 632.1,314.1 634.1,313.8 636.1,313.5 638.1,313.2 640.1,312.9 642.1,312.6 644.1,312.3 646.1,312.0 648.1,311.7 650.1,311.5 652.1,311.2 654.1,310.9 656.1,310.6 658.1,310.3 660.2,310.0 662.2,309.7 664.2,309.4 666.2,309.1 668.2,308.9 670.2,308.6 672.2,308.3 674.2,308.0 676.2,307.7 678.2,307.4 680.2,307.2 682.2,306.9 684.2,306.6 686.2,306.3 688.2,306.0 690.3,305.8 692.3,305.5 694.3,305.2 696.3,304.9 698.3,304.6 700.3,304.4 702.3,304.1 704.3,303.8 706.3,303.5 708.3,303.3 710.3,303.0 712.3,302.7 714.3,302.5 716.3,302.2 718.3,301.9 720.4,301.6 722.4,301.4 724.4,301.1 726.4,300.8 728.4,300.6 730.4,300.3 732.4,300.0 734.4,299.8 736.4,299.5 738.4,299.2 740.4,299.0 742.4,298.7 744.4,298.5 746.4,298.2 748.4,297.9 750.5,297.7 752.5,297.4 754.5,297.2 756.5,296.9 758.5,296.6 760.5,296.4 762.5,296.1 764.5,295.9" fill="none" stroke="#000" stroke-width="2.8"/>
<polyline points="164.5,470.1 166.5,468.6 168.5,467.4 170.5,466.5 172.5,465.7 174.5,465.0 176.5,464.3 178.6,463.7 180.6,463.1 182.6,462.6 184.6,462.1 186.6,461.6 188.6,461.1 190.6,460.7 192.6,460.2 194.6,459.8 196.6,459.4 198.6,459.0 200.6,458.6 202.6,458.2 204.6,457.8 206.6,457.5 208.7,457.1 210.7,456.8 212.7,456.4 214.7,456.1 216.7,455.8 218.7,455.4 220.7,455.1 222.7,454.8 224.7,454.5 226.7,454.2 228.7,453.9 230.7,453.6 232.7,453.3 234.7,453.1 236.7,452.8 238.8,452.5 240.8,452.2 242.8,452.0 244.8,451.7 246.8,451.4 248.8,451.2 250.8,450.9 252.8,450.7 254.8,450.4 256.8,450.2 258.8,449.9 260.8,449.7 262.8,449.4 264.8,449.2 266.8,449.0 268.9,448.7 270.9,448.5 272.9,448.3 274.9,448.1 276.9,447.8 278.9,447.6 280.9,447.4 282.9,447.2 284.9,447.0 286.9,446.8 288.9,446.5 290.9,446.3 292.9,446.1 294.9,445.9 296.9,445.7 299.0,445.5 301.0,445.3 303.0,445.1 305.0,444.9 307.0,444.7 309.0,444.5 311.0,444.3 313.0,444.1 315.0,443.9 317.0,443.8 319.0,443.6 321.0,443.4 323.0,443.2 325.0,443.0 327.0,442.8 329.1,442.6 331.1,442.5 333.1,442.3 335.1,442.1 337.1,441.9 339.1,441.8 341.1,441.6 343.1,441.4 345.1,441.2 347.1,441.1 349.1,440.9 351.1,440.7 353.1,440.6 355.1,440.4 357.1,440.2 359.2,440.1 361.2,439.9 363.2,439.7 365.2,439.6 367.2,439.4 369.2,439.2 371.2,439.1 373.2,438.9 375.2,438.8 377.2,438.6 379.2,438.5 381.2,438.3 383.2,438.1 385.2,438.0 387.2,437.8 389.3,437.7 391.3,437.5 393.3,437.4 395.3,437.2 397.3,437.1 399.3,436.9 401.3,436.8 403.3,436.6 405.3,436.5 407.3,436.4 409.3,436.2 411.3,436.1 413.3,435.9 415.3,435.8 417.3,435.6 419.4,435.5 421.4,435.4 423.4,435.2 425.4,435.1 427.4,434.9 429.4,434.8 431.4,434.7 433.4,434.5 435.4,434.4 437.4,434.2 439.4,434.1 441.4,434.0 443.4,433.8 445.4,433.7 447.4,433.6 449.5,433.4 451.5,433.3 453.5,433.2 455.5,433.1 457.5,432.9 459.5,432.8 461.5,432.7 463.5,432.5 465.5,432.4 467.5,432.3 469.5,432.1 471.5,432.0 473.5,431.9 475.5,431.8 477.5,431.6 479.6,431.5 481.6,431.4 483.6,431.3 485.6,431.1 487.6,431.0 489.6,430.9 491.6,430.8 493.6,430.7 495.6,430.5 497.6,430.4 499.6,430.3 501.6,430.2 503.6,430.1 505.6,429.9 507.6,429.8 509.7,429.7 511.7,429.6 513.7,429.5 515.7,429.3 517.7,429.2 519.7,429.1 521.7,429.0 523.7,428.9 525.7,428.8 527.7,428.7 529.7,428.5 531.7,428.4 533.7,428.3 535.7,428.2 537.7,428.1 539.8,428.0 541.8,427.9 543.8,427.7 545.8,427.6 547.8,427.5 549.8,427.4 551.8,427.3 553.8,427.2 555.8,427.1 557.8,427.0 559.8,426.9 561.8,426.8 563.8,426.6 565.8,426.5 567.8,426.4 569.9,426.3 571.9,426.2 573.9,426.1 575.9,426.0 577.9,425.9 579.9,425.8 581.9,425.7 583.9,425.6 585.9,425.5 587.9,425.4 589.9,425.3 591.9,425.2 593.9,425.1 595.9,425.0 597.9,424.9 600.0,424.7 602.0,424.6 604.0,424.5 606.0,424.4 608.0,424.3 610.0,424.2 612.0,424.1 614.0,424.0 616.0,423.9 618.0,423.8 620.0,423.7 622.0,423.6 624.0,423.5 626.0,423.4 628.0,423.3 630.1,423.2 632.1,423.1 634.1,423.0 636.1,422.9 638.1,422.8 640.1,422.7 642.1,422.7 644.1,422.6 646.1,422.5 648.1,422.4 650.1,422.3 652.1,422.2 654.1,422.1 656.1,422.0 658.1,421.9 660.2,421.8 662.2,421.7 664.2,421.6 666.2,421.5 668.2,421.4 670.2,421.3 672.2,421.2 674.2,421.1 676.2,421.0 678.2,420.9 680.2,420.9 682.2,420.8 684.2,420.7 686.2,420.6 688.2,420.5 690.3,420.4 692.3,420.3 694.3,420.2 696.3,420.1 698.3,420.0 700.3,419.9 702.3,419.8 704.3,419.8 706.3,419.7 708.3,419.6 710.3,419.5 712.3,419.4 714.3,419.3 716.3,419.2 718.3,419.1 720.4,419.0 722.4,419.0 724.4,418.9 726.4,418.8 728.4,418.7 730.4,418.6 732.4,418.5 734.4,418.4 736.4,418.3 738.4,418.3 740.4,418.2 742.4,418.1 744.4,418.0 746.4,417.9 748.4,417.8 750.5,417.7 752.5,417.7 754.5,417.6 756.5,417.5 758.5,417.4 760.5,417.3 762.5,417.2 764.5,417.1" fill="none" stroke="#000" stroke-width="2.8"/>
<polyline points="164.5,471.8 166.5,470.6 168.5,469.7 170.5,469.0 172.5,468.5 174.5,467.9 176.5,467.4 178.6,467.0 180.6,466.5 182.6,466.1 184.6,465.8 186.6,465.4 188.6,465.0 190.6,464.7 192.6,464.4 194.6,464.1 196.6,463.8 198.6,463.5 200.6,463.2 202.6,462.9 204.6,462.6 206.6,462.3 208.7,462.1 210.7,461.8 212.7,461.6 214.7,461.3 216.7,461.1 218.7,460.8 220.7,460.6 222.7,460.4 224.7,460.1 226.7,459.9 228.7,459.7 230.7,459.5 232.7,459.2 234.7,459.0 236.7,458.8 238.8,458.6 240.8,458.4 242.8,458.2 244.8,458.0 246.8,457.8 248.8,457.6 250.8,457.4 252.8,457.3 254.8,457.1 256.8,456.9 258.8,456.7 260.8,456.5 262.8,456.3 264.8,456.2 266.8,456.0 268.9,455.8 270.9,455.7 272.9,455.5 274.9,455.3 276.9,455.2 278.9,455.0 280.9,454.8 282.9,454.7 284.9,454.5 286.9,454.3 288.9,454.2 290.9,454.0 292.9,453.9 294.9,453.7 296.9,453.6 299.0,453.4 301.0,453.3 303.0,453.1 305.0,453.0 307.0,452.8 309.0,452.7 311.0,452.5 313.0,452.4 315.0,452.3 317.0,452.1 319.0,452.0 321.0,451.8 323.0,451.7 325.0,451.6 327.0,451.4 329.1,451.3 331.1,451.2 333.1,451.0 335.1,450.9 337.1,450.8 339.1,450.6 341.1,450.5 343.1,450.4 345.1,450.2 347.1,450.1 349.1,450.0 351.1,449.9 353.1,449.7 355.1,449.6 357.1,449.5 359.2,449.4 361.2,449.2 363.2,449.1 365.2,449.0 367.2,448.9 369.2,448.8 371.2,448.6 373.2,448.5 375.2,448.4 377.2,448.3 379.2,448.2 381.2,448.1 383.2,447.9 385.2,447.8 387.2,447.7 389.3,447.6 391.3,447.5 393.3,447.4 395.3,447.3 397.3,447.1 399.3,447.0 401.3,446.9 403.3,446.8 405.3,446.7 407.3,446.6 409.3,446.5 411.3,446.4 413.3,446.3 415.3,446.2 417.3,446.1 419.4,446.0 421.4,445.9 423.4,445.8 425.4,445.6 427.4,445.5 429.4,445.4 431.4,445.3 433.4,445.2 435.4,445.1 437.4,445.0 439.4,444.9 441.4,444.8 443.4,444.7 445.4,444.6 447.4,444.5 449.5,444.4 451.5,444.3 453.5,444.2 455.5,444.1 457.5,444.0 459.5,443.9 461.5,443.9 463.5,443.8 465.5,443.7 467.5,443.6 469.5,443.5 471.5,443.4 473.5,443.3 475.5,443.2 477.5,443.1 479.6,443.0 481.6,442.9 483.6,442.8 485.6,442.7 487.6,442.6 489.6,442.5 491.6,442.4 493.6,442.4 495.6,442.3 497.6,442.2 499.6,442.1 501.6,442.0 503.6,441.9 505.6,441.8 507.6,441.7 509.7,441.6 511.7,441.6 513.7,441.5 515.7,441.4 517.7,441.3 519.7,441.2 521.7,441.1 523.7,441.0 525.7,440.9 527.7,440.9 529.7,440.8 531.7,440.7 533.7,440.6 535.7,440.5 537.7,440.4 539.8,440.4 541.8,440.3 543.8,440.2 545.8,440.1 547.8,440.0 549.8,439.9 551.8,439.9 553.8,439.8 555.8,439.7 557.8,439.6 559.8,439.5 561.8,439.5 563.8,439.4 565.8,439.3 567.8,439.2 569.9,439.1 571.9,439.0 573.9,439.0 575.9,438.9 577.9,438.8 579.9,438.7 581.9,438.7 583.9,438.6 585.9,438.5 587.9,438.4 589.9,438.3 591.9,438.3 593.9,438.2 595.9,438.1 597.9,438.0 600.0,438.0 602.0,437.9 604.0,437.8 606.0,437.7 608.0,437.7 610.0,437.6 612.0,437.5 614.0,437.4 616.0,437.4 618.0,437.3 620.0,437.2 622.0,437.1 624.0,437.1 626.0,437.0 628.0,436.9 630.1,436.8 632.1,436.8 634.1,436.7 636.1,436.6 638.1,436.5 640.1,436.5 642.1,436.4 644.1,436.3 646.1,436.3 648.1,436.2 650.1,436.1 652.1,436.0 654.1,436.0 656.1,435.9 658.1,435.8 660.2,435.8 662.2,435.7 664.2,435.6 666.2,435.5 668.2,435.5 670.2,435.4 672.2,435.3 674.2,435.3 676.2,435.2 678.2,435.1 680.2,435.1 682.2,435.0 684.2,434.9 686.2,434.8 688.2,434.8 690.3,434.7 692.3,434.6 694.3,434.6 696.3,434.5 698.3,434.4 700.3,434.4 702.3,434.3 704.3,434.2 706.3,434.2 708.3,434.1 710.3,434.0 712.3,434.0 714.3,433.9 716.3,433.8 718.3,433.8 720.4,433.7 722.4,433.6 724.4,433.6 726.4,433.5 728.4,433.4 730.4,433.4 732.4,433.3 734.4,433.2 736.4,433.2 738.4,433.1 740.4,433.1 742.4,433.0 744.4,432.9 746.4,432.9 748.4,432.8 750.5,432.7 752.5,432.7 754.5,432.6 756.5,432.5 758.5,432.5 760.5,432.4 762.5,432.4 764.5,432.3" fill="none" stroke="#000" stroke-width="2.8" stroke-dasharray="10.2,4.4" stroke-dashoffset="-3.5"/>
<polyline points="164.5,435.7 166.5,425.5 168.5,418.2 170.5,412.3 172.5,407.1 174.5,402.5 176.5,398.3 178.6,394.4 180.6,390.7 182.6,387.3 184.6,384.0 186.6,380.8 188.6,377.8 190.6,374.9 192.6,372.0 194.6,369.3 196.6,366.7 198.6,364.1 200.6,361.6 202.6,359.1 204.6,356.7 206.6,354.4 208.7,352.1 210.7,349.9 212.7,347.7 214.7,345.6 216.7,343.5 218.7,341.4 220.7,339.4 222.7,337.4 224.7,335.4 226.7,333.5 228.7,331.6 230.7,329.7 232.7,327.8 234.7,326.0 236.7,324.2 238.8,322.5 240.8,320.7 242.8,319.0 244.8,317.3 246.8,315.6 248.8,313.9 250.8,312.3 252.8,310.7 254.8,309.1 256.8,307.5 258.8,305.9 260.8,304.4 262.8,302.8 264.8,301.3 266.8,299.8 268.9,298.3 270.9,296.9 272.9,295.4 274.9,294.0 276.9,292.5 278.9,291.1 280.9,289.7 282.9,288.3 284.9,286.9 286.9,285.6 288.9,284.2 290.9,282.9 292.9,281.5 294.9,280.2 296.9,278.9 299.0,277.6 301.0,276.3 303.0,275.0 305.0,273.8 307.0,272.5 309.0,271.3 311.0,270.0 313.0,268.8 315.0,267.6 317.0,266.3 319.0,265.1 321.0,263.9 323.0,262.8 325.0,261.6 327.0,260.4 329.1,259.2 331.1,258.1 333.1,256.9 335.1,255.8 337.1,254.7 339.1,253.5 341.1,252.4 343.1,251.3 345.1,250.2 347.1,249.1 349.1,248.0 351.1,246.9 353.1,245.8 355.1,244.8 357.1,243.7 359.2,242.6 361.2,241.6 363.2,240.5 365.2,239.5 367.2,238.5 369.2,237.4 371.2,236.4 373.2,235.4 375.2,234.4 377.2,233.4 379.2,232.4 381.2,231.4 383.2,230.4 385.2,229.4 387.2,228.4 389.3,227.4 391.3,226.5 393.3,225.5 395.3,224.5 397.3,223.6 399.3,222.6 401.3,221.7 403.3,220.7 405.3,219.8 407.3,218.9 409.3,217.9 411.3,217.0 413.3,216.1 415.3,215.2 417.3,214.2 419.4,213.3 421.4,212.4 423.4,211.5 425.4,210.6 427.4,209.7 429.4,208.9 431.4,208.0 433.4,207.1 435.4,206.2 437.4,205.3 439.4,204.5 441.4,203.6 443.4,202.7 445.4,201.9 447.4,201.0 449.5,200.2 451.5,199.3 453.5,198.5 455.5,197.6 457.5,196.8 459.5,196.0 461.5,195.1 463.5,194.3 465.5,193.5 467.5,192.7 469.5,191.9 471.5,191.0 473.5,190.2 475.5,189.4 477.5,188.6 479.6,187.8 481.6,187.0 483.6,186.2 485.6,185.4 487.6,184.6 489.6,183.8 491.6,183.1 493.6,182.3 495.6,181.5 497.6,180.7 499.6,180.0 501.6,179.2 503.6,178.4 505.6,177.6 507.6,176.9 509.7,176.1 511.7,175.4 513.7,174.6 515.7,173.9 517.7,173.1 519.7,172.4 521.7,171.6 523.7,170.9 525.7,170.1 527.7,169.4 529.7,168.7 531.7,167.9 533.7,167.2 535.7,166.5 537.7,165.8 539.8,165.0 541.8,164.3 543.8,163.6 545.8,162.9 547.8,162.2 549.8,161.5 551.8,160.7 553.8,160.0 555.8,159.3 557.8,158.6 559.8,157.9 561.8,157.2 563.8,156.5 565.8,155.8 567.8,155.2 569.9,154.5 571.9,153.8 573.9,153.1 575.9,152.4 577.9,151.7 579.9,151.0 581.9,150.4 583.9,149.7 585.9,149.0 587.9,148.3 589.9,147.7 591.9,147.0 593.9,146.3 595.9,145.7 597.9,145.0 600.0,144.4 602.0,143.7 604.0,143.0 606.0,142.4 608.0,141.7 610.0,141.1 612.0,140.4 614.0,139.8 616.0,139.1 618.0,138.5 620.0,137.9 622.0,137.2 624.0,136.6 626.0,135.9 628.0,135.3 630.1,134.7 632.1,134.0 634.1,133.4 636.1,132.8 638.1,132.2 640.1,131.5 642.1,130.9 644.1,130.3 646.1,129.7 648.1,129.0 650.1,128.4 652.1,127.8 654.1,127.2 656.1,126.6 658.1,126.0 660.2,125.4 662.2,124.8 664.2,124.1 666.2,123.5 668.2,122.9 670.2,122.3 672.2,121.7 674.2,121.1 676.2,120.5 678.2,119.9 680.2,119.3 682.2,118.8 684.2,118.2 686.2,117.6 688.2,117.0 690.3,116.4 692.3,115.8 694.3,115.2 696.3,114.6 698.3,114.1 700.3,113.5 702.3,112.9 704.3,112.3 706.3,111.7 708.3,111.2 710.3,110.6 712.3,110.0 714.3,109.4 716.3,108.9 718.3,108.3 720.4,107.7 722.4,107.2 724.4,106.6 726.4,106.0 728.4,105.5 730.4,104.9 732.4,104.4 734.4,103.8 736.4,103.2 738.4,102.7 740.4,102.1 742.4,101.6 744.4,101.0 746.4,100.5 748.4,99.9 750.5,99.4 752.5,98.8 754.5,98.3 756.5,97.7 758.5,97.2 760.5,96.6 762.5,96.1 764.5,95.5" fill="none" stroke="#000" stroke-width="2.8" stroke-dasharray="17.6,4.4,2.8,4.4" stroke-dashoffset="-5"/>
<line x1="574.8" y1="123.3" x2="574.8" y2="204.9" stroke="#000" stroke-width="2.8"/>
<line x1="523.7" y1="164.5" x2="624.4" y2="164.5" stroke="#000" stroke-width="2.8"/>
</g>
<rect x="162.5" y="52.5" width="602" height="424" fill="none" stroke="#000" stroke-width="1.1"/>
<path d="M162.50,476.5L162.50,481.5M262.83,476.5L262.83,481.5M363.17,476.5L363.17,481.5M463.50,476.5L463.50,481.5M563.83,476.5L563.83,481.5M664.17,476.5L664.17,481.5M764.50,476.5L764.50,481.5M157.5,476.50L162.5,476.50M157.5,419.97L162.5,419.97M157.5,363.43L162.5,363.43M157.5,306.90L162.5,306.90M157.5,250.37L162.5,250.37M157.5,193.83L162.5,193.83M157.5,137.30L162.5,137.30M157.5,80.77L162.5,80.77" stroke="#000" stroke-width="1.1"/>
<text transform="translate(162.50,497.6) scale(1.17,1)" text-anchor="middle" class="tk">0</text>
<text transform="translate(262.83,497.6) scale(1.17,1)" text-anchor="middle" class="tk">5</text>
<text transform="translate(363.17,497.6) scale(1.17,1)" text-anchor="middle" class="tk">10</text>
<text transform="translate(463.50,497.6) scale(1.17,1)" text-anchor="middle" class="tk">15</text>
<text transform="translate(563.83,497.6) scale(1.17,1)" text-anchor="middle" class="tk">20</text>
<text transform="translate(664.17,497.6) scale(1.17,1)" text-anchor="middle" class="tk">25</text>
<text transform="translate(764.50,497.6) scale(1.17,1)" text-anchor="middle" class="tk">30</text>
<text transform="translate(152.6,481.70) scale(1.17,1)" text-anchor="end" class="tk">0</text>
<text transform="translate(152.6,425.17) scale(1.17,1)" text-anchor="end" class="tk">20</text>
<text transform="translate(152.6,368.63) scale(1.17,1)" text-anchor="end" class="tk">40</text>
<text transform="translate(152.6,312.10) scale(1.17,1)" text-anchor="end" class="tk">60</text>
<text transform="translate(152.6,255.57) scale(1.17,1)" text-anchor="end" class="tk">80</text>
<text transform="translate(152.6,199.03) scale(1.17,1)" text-anchor="end" class="tk">100</text>
<text transform="translate(152.6,142.50) scale(1.17,1)" text-anchor="end" class="tk">120</text>
<text transform="translate(152.6,85.97) scale(1.17,1)" text-anchor="end" class="tk">140</text>
<text x="356.7" y="525" class="lab">Donor star mass (M</text>
<circle cx="555.0" cy="523.5" r="5.0" fill="none" stroke="#000" stroke-width="1.05"/><circle cx="555.0" cy="523.5" r="0.9" fill="#000"/>
<text x="562.4" y="525" class="lab">)</text>
<g transform="translate(107.6,377) rotate(-90)"><text x="-1" y="0" class="lab">Donor star radius (R</text><circle cx="205.2" cy="-2.0" r="5.0" fill="none" stroke="#000" stroke-width="1.05"/><circle cx="205.2" cy="-2.0" r="0.9" fill="#000"/><text x="216.3" y="0" class="lab">)</text></g>
<rect x="170" y="59.5" width="152.5" height="141.5" rx="3" ry="3" fill="#ffffff" fill-opacity="0.8" stroke="#cccccc" stroke-width="1.1"/>
<line x1="175.5" y1="72.1" x2="202" y2="72.1" stroke="#000" stroke-width="2.8" stroke-dasharray="10.3,4.3"/>
<line x1="174.2" y1="95.2" x2="203.7" y2="95.2" stroke="#000" stroke-width="2.8"/>
<line x1="175.5" y1="118.5" x2="202" y2="118.5" stroke="#000" stroke-width="2.8" stroke-dasharray="17.5,4.4,2.9,10"/>
<circle cx="189.3" cy="142.3" r="6.9" fill="#d7301f"/>
<circle cx="189.3" cy="165.2" r="6.9" fill="#fdcc8a"/>
<circle cx="189.3" cy="188.1" r="6.9" fill="#fc8d59"/>
<text x="213.8" y="77.0" class="lg">M82 X-2</text>
<text x="213.8" y="99.8" class="lg">NGC 5907 X-1</text>
<text x="213.8" y="122.8" class="lg">NGC 7793 P13</text>
<text x="213.8" y="144.7" class="lg">MS</text>
<text x="213.8" y="167.6" class="lg">RGB</text>
<text x="213.8" y="190.3" class="lg">CHEB</text>
</svg>
</body></html>
